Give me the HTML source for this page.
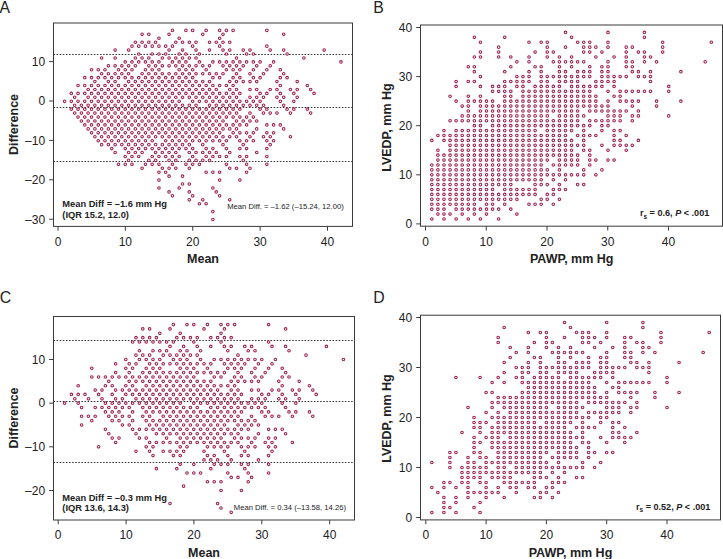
<!DOCTYPE html>
<html><head><meta charset="utf-8"><style>
html,body{margin:0;padding:0;background:#fff;width:723px;height:559px;overflow:hidden}
svg{display:block}
text{font-family:"Liberation Sans",sans-serif;fill:#222}
.tk{font-size:12px}
.let{font-size:15.8px}
.ax{font-size:12.5px;font-weight:bold}
.an{font-size:9.3px;font-weight:bold}
.sm{font-size:7.65px;fill:#222}
.rs{font-size:9.1px;font-weight:bold}
.sub{font-size:6.5px}
</style></head><body>
<svg width="723" height="559" viewBox="0 0 723 559">
<rect x="53.5" y="23" width="299" height="203.4" fill="none" stroke="#3a3a3a" stroke-width="1"/>
<line x1="53.5" x2="352.5" y1="54.5" y2="54.5" stroke="#333" stroke-width="1" stroke-dasharray="1.55 1.55"/>
<line x1="53.5" x2="352.5" y1="107.5" y2="107.5" stroke="#333" stroke-width="1" stroke-dasharray="1.55 1.55"/>
<line x1="53.5" x2="352.5" y1="161.5" y2="161.5" stroke="#333" stroke-width="1" stroke-dasharray="1.55 1.55"/>
<line x1="58" x2="58" y1="226.4" y2="230.7" stroke="#3a3a3a" stroke-width="1"/>
<text x="58" y="245.7" text-anchor="middle" class="tk">0</text>
<line x1="125.38" x2="125.38" y1="226.4" y2="230.7" stroke="#3a3a3a" stroke-width="1"/>
<text x="125.38" y="245.7" text-anchor="middle" class="tk">10</text>
<line x1="192.75" x2="192.75" y1="226.4" y2="230.7" stroke="#3a3a3a" stroke-width="1"/>
<text x="192.75" y="245.7" text-anchor="middle" class="tk">20</text>
<line x1="260.12" x2="260.12" y1="226.4" y2="230.7" stroke="#3a3a3a" stroke-width="1"/>
<text x="260.12" y="245.7" text-anchor="middle" class="tk">30</text>
<line x1="327.5" x2="327.5" y1="226.4" y2="230.7" stroke="#3a3a3a" stroke-width="1"/>
<text x="327.5" y="245.7" text-anchor="middle" class="tk">40</text>
<line x1="49.2" x2="53.5" y1="219.2" y2="219.2" stroke="#3a3a3a" stroke-width="1"/>
<text x="45.1" y="223.5" text-anchor="end" class="tk">–30</text>
<line x1="49.2" x2="53.5" y1="179.8" y2="179.8" stroke="#3a3a3a" stroke-width="1"/>
<text x="45.1" y="184.1" text-anchor="end" class="tk">–20</text>
<line x1="49.2" x2="53.5" y1="140.4" y2="140.4" stroke="#3a3a3a" stroke-width="1"/>
<text x="45.1" y="144.7" text-anchor="end" class="tk">–10</text>
<line x1="49.2" x2="53.5" y1="101" y2="101" stroke="#3a3a3a" stroke-width="1"/>
<text x="45.1" y="105.3" text-anchor="end" class="tk">0</text>
<line x1="49.2" x2="53.5" y1="61.6" y2="61.6" stroke="#3a3a3a" stroke-width="1"/>
<text x="45.1" y="65.9" text-anchor="end" class="tk">10</text>
<g fill="#fff" stroke="#9c1f52" stroke-width="1.05">
<circle cx="64.54" cy="101.3" r="1.3"/>
<circle cx="71.29" cy="109.18" r="1.3"/>
<circle cx="74.66" cy="113.12" r="1.3"/>
<circle cx="78.03" cy="117.06" r="1.3"/>
<circle cx="81.4" cy="121" r="1.3"/>
<circle cx="84.77" cy="124.94" r="1.3"/>
<circle cx="88.14" cy="128.88" r="1.3"/>
<circle cx="91.52" cy="132.82" r="1.3"/>
<circle cx="94.89" cy="136.76" r="1.3"/>
<circle cx="98.26" cy="140.7" r="1.3"/>
<circle cx="101.63" cy="144.64" r="1.3"/>
<circle cx="118.49" cy="164.34" r="1.3"/>
<circle cx="71.29" cy="101.3" r="1.3"/>
<circle cx="74.66" cy="105.24" r="1.3"/>
<circle cx="78.03" cy="109.18" r="1.3"/>
<circle cx="81.4" cy="113.12" r="1.3"/>
<circle cx="84.77" cy="117.06" r="1.3"/>
<circle cx="88.14" cy="121" r="1.3"/>
<circle cx="91.52" cy="124.94" r="1.3"/>
<circle cx="94.89" cy="128.88" r="1.3"/>
<circle cx="98.26" cy="132.82" r="1.3"/>
<circle cx="101.63" cy="136.76" r="1.3"/>
<circle cx="105" cy="140.7" r="1.3"/>
<circle cx="108.37" cy="144.64" r="1.3"/>
<circle cx="111.74" cy="148.58" r="1.3"/>
<circle cx="115.12" cy="152.52" r="1.3"/>
<circle cx="125.23" cy="164.34" r="1.3"/>
<circle cx="71.29" cy="93.42" r="1.3"/>
<circle cx="74.66" cy="97.36" r="1.3"/>
<circle cx="78.03" cy="101.3" r="1.3"/>
<circle cx="81.4" cy="105.24" r="1.3"/>
<circle cx="84.77" cy="109.18" r="1.3"/>
<circle cx="88.14" cy="113.12" r="1.3"/>
<circle cx="91.52" cy="117.06" r="1.3"/>
<circle cx="94.89" cy="121" r="1.3"/>
<circle cx="98.26" cy="124.94" r="1.3"/>
<circle cx="101.63" cy="128.88" r="1.3"/>
<circle cx="105" cy="132.82" r="1.3"/>
<circle cx="108.37" cy="136.76" r="1.3"/>
<circle cx="111.74" cy="140.7" r="1.3"/>
<circle cx="115.12" cy="144.64" r="1.3"/>
<circle cx="125.23" cy="156.46" r="1.3"/>
<circle cx="128.6" cy="160.4" r="1.3"/>
<circle cx="131.97" cy="164.34" r="1.3"/>
<circle cx="78.03" cy="93.42" r="1.3"/>
<circle cx="84.77" cy="101.3" r="1.3"/>
<circle cx="88.14" cy="105.24" r="1.3"/>
<circle cx="91.52" cy="109.18" r="1.3"/>
<circle cx="94.89" cy="113.12" r="1.3"/>
<circle cx="98.26" cy="117.06" r="1.3"/>
<circle cx="101.63" cy="121" r="1.3"/>
<circle cx="105" cy="124.94" r="1.3"/>
<circle cx="108.37" cy="128.88" r="1.3"/>
<circle cx="111.74" cy="132.82" r="1.3"/>
<circle cx="115.12" cy="136.76" r="1.3"/>
<circle cx="118.49" cy="140.7" r="1.3"/>
<circle cx="121.86" cy="144.64" r="1.3"/>
<circle cx="125.23" cy="148.58" r="1.3"/>
<circle cx="128.6" cy="152.52" r="1.3"/>
<circle cx="131.97" cy="156.46" r="1.3"/>
<circle cx="142.09" cy="168.28" r="1.3"/>
<circle cx="158.94" cy="187.98" r="1.3"/>
<circle cx="78.03" cy="85.54" r="1.3"/>
<circle cx="84.77" cy="93.42" r="1.3"/>
<circle cx="88.14" cy="97.36" r="1.3"/>
<circle cx="91.52" cy="101.3" r="1.3"/>
<circle cx="94.89" cy="105.24" r="1.3"/>
<circle cx="98.26" cy="109.18" r="1.3"/>
<circle cx="101.63" cy="113.12" r="1.3"/>
<circle cx="105" cy="117.06" r="1.3"/>
<circle cx="108.37" cy="121" r="1.3"/>
<circle cx="111.74" cy="124.94" r="1.3"/>
<circle cx="115.12" cy="128.88" r="1.3"/>
<circle cx="118.49" cy="132.82" r="1.3"/>
<circle cx="121.86" cy="136.76" r="1.3"/>
<circle cx="125.23" cy="140.7" r="1.3"/>
<circle cx="128.6" cy="144.64" r="1.3"/>
<circle cx="131.97" cy="148.58" r="1.3"/>
<circle cx="135.34" cy="152.52" r="1.3"/>
<circle cx="138.72" cy="156.46" r="1.3"/>
<circle cx="145.46" cy="164.34" r="1.3"/>
<circle cx="158.94" cy="180.1" r="1.3"/>
<circle cx="169.06" cy="191.92" r="1.3"/>
<circle cx="172.43" cy="195.86" r="1.3"/>
<circle cx="84.77" cy="85.54" r="1.3"/>
<circle cx="88.14" cy="89.48" r="1.3"/>
<circle cx="91.52" cy="93.42" r="1.3"/>
<circle cx="94.89" cy="97.36" r="1.3"/>
<circle cx="98.26" cy="101.3" r="1.3"/>
<circle cx="101.63" cy="105.24" r="1.3"/>
<circle cx="105" cy="109.18" r="1.3"/>
<circle cx="108.37" cy="113.12" r="1.3"/>
<circle cx="111.74" cy="117.06" r="1.3"/>
<circle cx="115.12" cy="121" r="1.3"/>
<circle cx="118.49" cy="124.94" r="1.3"/>
<circle cx="121.86" cy="128.88" r="1.3"/>
<circle cx="125.23" cy="132.82" r="1.3"/>
<circle cx="128.6" cy="136.76" r="1.3"/>
<circle cx="131.97" cy="140.7" r="1.3"/>
<circle cx="135.34" cy="144.64" r="1.3"/>
<circle cx="138.72" cy="148.58" r="1.3"/>
<circle cx="142.09" cy="152.52" r="1.3"/>
<circle cx="148.83" cy="160.4" r="1.3"/>
<circle cx="152.2" cy="164.34" r="1.3"/>
<circle cx="158.94" cy="172.22" r="1.3"/>
<circle cx="84.77" cy="77.66" r="1.3"/>
<circle cx="91.52" cy="85.54" r="1.3"/>
<circle cx="94.89" cy="89.48" r="1.3"/>
<circle cx="98.26" cy="93.42" r="1.3"/>
<circle cx="101.63" cy="97.36" r="1.3"/>
<circle cx="105" cy="101.3" r="1.3"/>
<circle cx="108.37" cy="105.24" r="1.3"/>
<circle cx="111.74" cy="109.18" r="1.3"/>
<circle cx="115.12" cy="113.12" r="1.3"/>
<circle cx="118.49" cy="117.06" r="1.3"/>
<circle cx="121.86" cy="121" r="1.3"/>
<circle cx="125.23" cy="124.94" r="1.3"/>
<circle cx="128.6" cy="128.88" r="1.3"/>
<circle cx="131.97" cy="132.82" r="1.3"/>
<circle cx="135.34" cy="136.76" r="1.3"/>
<circle cx="138.72" cy="140.7" r="1.3"/>
<circle cx="142.09" cy="144.64" r="1.3"/>
<circle cx="145.46" cy="148.58" r="1.3"/>
<circle cx="152.2" cy="156.46" r="1.3"/>
<circle cx="155.57" cy="160.4" r="1.3"/>
<circle cx="158.94" cy="164.34" r="1.3"/>
<circle cx="162.32" cy="168.28" r="1.3"/>
<circle cx="165.69" cy="172.22" r="1.3"/>
<circle cx="169.06" cy="176.16" r="1.3"/>
<circle cx="179.17" cy="187.98" r="1.3"/>
<circle cx="189.29" cy="199.8" r="1.3"/>
<circle cx="91.52" cy="77.66" r="1.3"/>
<circle cx="94.89" cy="81.6" r="1.3"/>
<circle cx="98.26" cy="85.54" r="1.3"/>
<circle cx="101.63" cy="89.48" r="1.3"/>
<circle cx="105" cy="93.42" r="1.3"/>
<circle cx="108.37" cy="97.36" r="1.3"/>
<circle cx="111.74" cy="101.3" r="1.3"/>
<circle cx="115.12" cy="105.24" r="1.3"/>
<circle cx="118.49" cy="109.18" r="1.3"/>
<circle cx="121.86" cy="113.12" r="1.3"/>
<circle cx="125.23" cy="117.06" r="1.3"/>
<circle cx="128.6" cy="121" r="1.3"/>
<circle cx="131.97" cy="124.94" r="1.3"/>
<circle cx="135.34" cy="128.88" r="1.3"/>
<circle cx="138.72" cy="132.82" r="1.3"/>
<circle cx="142.09" cy="136.76" r="1.3"/>
<circle cx="145.46" cy="140.7" r="1.3"/>
<circle cx="148.83" cy="144.64" r="1.3"/>
<circle cx="152.2" cy="148.58" r="1.3"/>
<circle cx="155.57" cy="152.52" r="1.3"/>
<circle cx="158.94" cy="156.46" r="1.3"/>
<circle cx="169.06" cy="168.28" r="1.3"/>
<circle cx="182.55" cy="184.04" r="1.3"/>
<circle cx="189.29" cy="191.92" r="1.3"/>
<circle cx="192.66" cy="195.86" r="1.3"/>
<circle cx="199.4" cy="203.74" r="1.3"/>
<circle cx="212.89" cy="219.5" r="1.3"/>
<circle cx="91.52" cy="69.78" r="1.3"/>
<circle cx="98.26" cy="77.66" r="1.3"/>
<circle cx="105" cy="85.54" r="1.3"/>
<circle cx="108.37" cy="89.48" r="1.3"/>
<circle cx="111.74" cy="93.42" r="1.3"/>
<circle cx="115.12" cy="97.36" r="1.3"/>
<circle cx="118.49" cy="101.3" r="1.3"/>
<circle cx="121.86" cy="105.24" r="1.3"/>
<circle cx="125.23" cy="109.18" r="1.3"/>
<circle cx="128.6" cy="113.12" r="1.3"/>
<circle cx="131.97" cy="117.06" r="1.3"/>
<circle cx="135.34" cy="121" r="1.3"/>
<circle cx="138.72" cy="124.94" r="1.3"/>
<circle cx="142.09" cy="128.88" r="1.3"/>
<circle cx="145.46" cy="132.82" r="1.3"/>
<circle cx="148.83" cy="136.76" r="1.3"/>
<circle cx="152.2" cy="140.7" r="1.3"/>
<circle cx="155.57" cy="144.64" r="1.3"/>
<circle cx="158.94" cy="148.58" r="1.3"/>
<circle cx="162.32" cy="152.52" r="1.3"/>
<circle cx="165.69" cy="156.46" r="1.3"/>
<circle cx="169.06" cy="160.4" r="1.3"/>
<circle cx="172.43" cy="164.34" r="1.3"/>
<circle cx="175.8" cy="168.28" r="1.3"/>
<circle cx="182.55" cy="176.16" r="1.3"/>
<circle cx="189.29" cy="184.04" r="1.3"/>
<circle cx="202.77" cy="199.8" r="1.3"/>
<circle cx="206.15" cy="203.74" r="1.3"/>
<circle cx="212.89" cy="211.62" r="1.3"/>
<circle cx="98.26" cy="69.78" r="1.3"/>
<circle cx="101.63" cy="73.72" r="1.3"/>
<circle cx="105" cy="77.66" r="1.3"/>
<circle cx="108.37" cy="81.6" r="1.3"/>
<circle cx="111.74" cy="85.54" r="1.3"/>
<circle cx="115.12" cy="89.48" r="1.3"/>
<circle cx="118.49" cy="93.42" r="1.3"/>
<circle cx="121.86" cy="97.36" r="1.3"/>
<circle cx="125.23" cy="101.3" r="1.3"/>
<circle cx="128.6" cy="105.24" r="1.3"/>
<circle cx="131.97" cy="109.18" r="1.3"/>
<circle cx="135.34" cy="113.12" r="1.3"/>
<circle cx="138.72" cy="117.06" r="1.3"/>
<circle cx="142.09" cy="121" r="1.3"/>
<circle cx="145.46" cy="124.94" r="1.3"/>
<circle cx="148.83" cy="128.88" r="1.3"/>
<circle cx="152.2" cy="132.82" r="1.3"/>
<circle cx="155.57" cy="136.76" r="1.3"/>
<circle cx="162.32" cy="144.64" r="1.3"/>
<circle cx="165.69" cy="148.58" r="1.3"/>
<circle cx="169.06" cy="152.52" r="1.3"/>
<circle cx="172.43" cy="156.46" r="1.3"/>
<circle cx="175.8" cy="160.4" r="1.3"/>
<circle cx="105" cy="69.78" r="1.3"/>
<circle cx="108.37" cy="73.72" r="1.3"/>
<circle cx="111.74" cy="77.66" r="1.3"/>
<circle cx="115.12" cy="81.6" r="1.3"/>
<circle cx="118.49" cy="85.54" r="1.3"/>
<circle cx="121.86" cy="89.48" r="1.3"/>
<circle cx="125.23" cy="93.42" r="1.3"/>
<circle cx="128.6" cy="97.36" r="1.3"/>
<circle cx="131.97" cy="101.3" r="1.3"/>
<circle cx="135.34" cy="105.24" r="1.3"/>
<circle cx="138.72" cy="109.18" r="1.3"/>
<circle cx="142.09" cy="113.12" r="1.3"/>
<circle cx="145.46" cy="117.06" r="1.3"/>
<circle cx="148.83" cy="121" r="1.3"/>
<circle cx="152.2" cy="124.94" r="1.3"/>
<circle cx="155.57" cy="128.88" r="1.3"/>
<circle cx="158.94" cy="132.82" r="1.3"/>
<circle cx="162.32" cy="136.76" r="1.3"/>
<circle cx="165.69" cy="140.7" r="1.3"/>
<circle cx="169.06" cy="144.64" r="1.3"/>
<circle cx="172.43" cy="148.58" r="1.3"/>
<circle cx="175.8" cy="152.52" r="1.3"/>
<circle cx="179.17" cy="156.46" r="1.3"/>
<circle cx="185.92" cy="164.34" r="1.3"/>
<circle cx="189.29" cy="168.28" r="1.3"/>
<circle cx="101.63" cy="57.96" r="1.3"/>
<circle cx="108.37" cy="65.84" r="1.3"/>
<circle cx="115.12" cy="73.72" r="1.3"/>
<circle cx="118.49" cy="77.66" r="1.3"/>
<circle cx="125.23" cy="85.54" r="1.3"/>
<circle cx="128.6" cy="89.48" r="1.3"/>
<circle cx="131.97" cy="93.42" r="1.3"/>
<circle cx="135.34" cy="97.36" r="1.3"/>
<circle cx="138.72" cy="101.3" r="1.3"/>
<circle cx="142.09" cy="105.24" r="1.3"/>
<circle cx="145.46" cy="109.18" r="1.3"/>
<circle cx="148.83" cy="113.12" r="1.3"/>
<circle cx="152.2" cy="117.06" r="1.3"/>
<circle cx="155.57" cy="121" r="1.3"/>
<circle cx="158.94" cy="124.94" r="1.3"/>
<circle cx="162.32" cy="128.88" r="1.3"/>
<circle cx="165.69" cy="132.82" r="1.3"/>
<circle cx="169.06" cy="136.76" r="1.3"/>
<circle cx="172.43" cy="140.7" r="1.3"/>
<circle cx="175.8" cy="144.64" r="1.3"/>
<circle cx="179.17" cy="148.58" r="1.3"/>
<circle cx="189.29" cy="160.4" r="1.3"/>
<circle cx="192.66" cy="164.34" r="1.3"/>
<circle cx="212.89" cy="187.98" r="1.3"/>
<circle cx="216.26" cy="191.92" r="1.3"/>
<circle cx="219.63" cy="195.86" r="1.3"/>
<circle cx="115.12" cy="65.84" r="1.3"/>
<circle cx="118.49" cy="69.78" r="1.3"/>
<circle cx="121.86" cy="73.72" r="1.3"/>
<circle cx="125.23" cy="77.66" r="1.3"/>
<circle cx="128.6" cy="81.6" r="1.3"/>
<circle cx="131.97" cy="85.54" r="1.3"/>
<circle cx="135.34" cy="89.48" r="1.3"/>
<circle cx="138.72" cy="93.42" r="1.3"/>
<circle cx="142.09" cy="97.36" r="1.3"/>
<circle cx="145.46" cy="101.3" r="1.3"/>
<circle cx="148.83" cy="105.24" r="1.3"/>
<circle cx="152.2" cy="109.18" r="1.3"/>
<circle cx="155.57" cy="113.12" r="1.3"/>
<circle cx="158.94" cy="117.06" r="1.3"/>
<circle cx="162.32" cy="121" r="1.3"/>
<circle cx="165.69" cy="124.94" r="1.3"/>
<circle cx="169.06" cy="128.88" r="1.3"/>
<circle cx="172.43" cy="132.82" r="1.3"/>
<circle cx="175.8" cy="136.76" r="1.3"/>
<circle cx="179.17" cy="140.7" r="1.3"/>
<circle cx="182.55" cy="144.64" r="1.3"/>
<circle cx="185.92" cy="148.58" r="1.3"/>
<circle cx="189.29" cy="152.52" r="1.3"/>
<circle cx="192.66" cy="156.46" r="1.3"/>
<circle cx="196.03" cy="160.4" r="1.3"/>
<circle cx="199.4" cy="164.34" r="1.3"/>
<circle cx="206.15" cy="172.22" r="1.3"/>
<circle cx="229.75" cy="199.8" r="1.3"/>
<circle cx="115.12" cy="57.96" r="1.3"/>
<circle cx="121.86" cy="65.84" r="1.3"/>
<circle cx="125.23" cy="69.78" r="1.3"/>
<circle cx="128.6" cy="73.72" r="1.3"/>
<circle cx="131.97" cy="77.66" r="1.3"/>
<circle cx="135.34" cy="81.6" r="1.3"/>
<circle cx="138.72" cy="85.54" r="1.3"/>
<circle cx="142.09" cy="89.48" r="1.3"/>
<circle cx="145.46" cy="93.42" r="1.3"/>
<circle cx="148.83" cy="97.36" r="1.3"/>
<circle cx="152.2" cy="101.3" r="1.3"/>
<circle cx="155.57" cy="105.24" r="1.3"/>
<circle cx="158.94" cy="109.18" r="1.3"/>
<circle cx="162.32" cy="113.12" r="1.3"/>
<circle cx="165.69" cy="117.06" r="1.3"/>
<circle cx="169.06" cy="121" r="1.3"/>
<circle cx="172.43" cy="124.94" r="1.3"/>
<circle cx="175.8" cy="128.88" r="1.3"/>
<circle cx="179.17" cy="132.82" r="1.3"/>
<circle cx="182.55" cy="136.76" r="1.3"/>
<circle cx="185.92" cy="140.7" r="1.3"/>
<circle cx="189.29" cy="144.64" r="1.3"/>
<circle cx="192.66" cy="148.58" r="1.3"/>
<circle cx="196.03" cy="152.52" r="1.3"/>
<circle cx="202.77" cy="160.4" r="1.3"/>
<circle cx="212.89" cy="172.22" r="1.3"/>
<circle cx="219.63" cy="180.1" r="1.3"/>
<circle cx="115.12" cy="50.08" r="1.3"/>
<circle cx="125.23" cy="61.9" r="1.3"/>
<circle cx="128.6" cy="65.84" r="1.3"/>
<circle cx="131.97" cy="69.78" r="1.3"/>
<circle cx="138.72" cy="77.66" r="1.3"/>
<circle cx="142.09" cy="81.6" r="1.3"/>
<circle cx="145.46" cy="85.54" r="1.3"/>
<circle cx="148.83" cy="89.48" r="1.3"/>
<circle cx="152.2" cy="93.42" r="1.3"/>
<circle cx="155.57" cy="97.36" r="1.3"/>
<circle cx="158.94" cy="101.3" r="1.3"/>
<circle cx="162.32" cy="105.24" r="1.3"/>
<circle cx="165.69" cy="109.18" r="1.3"/>
<circle cx="169.06" cy="113.12" r="1.3"/>
<circle cx="172.43" cy="117.06" r="1.3"/>
<circle cx="175.8" cy="121" r="1.3"/>
<circle cx="179.17" cy="124.94" r="1.3"/>
<circle cx="182.55" cy="128.88" r="1.3"/>
<circle cx="185.92" cy="132.82" r="1.3"/>
<circle cx="189.29" cy="136.76" r="1.3"/>
<circle cx="192.66" cy="140.7" r="1.3"/>
<circle cx="202.77" cy="152.52" r="1.3"/>
<circle cx="206.15" cy="156.46" r="1.3"/>
<circle cx="209.52" cy="160.4" r="1.3"/>
<circle cx="219.63" cy="172.22" r="1.3"/>
<circle cx="131.97" cy="61.9" r="1.3"/>
<circle cx="135.34" cy="65.84" r="1.3"/>
<circle cx="142.09" cy="73.72" r="1.3"/>
<circle cx="145.46" cy="77.66" r="1.3"/>
<circle cx="148.83" cy="81.6" r="1.3"/>
<circle cx="152.2" cy="85.54" r="1.3"/>
<circle cx="155.57" cy="89.48" r="1.3"/>
<circle cx="158.94" cy="93.42" r="1.3"/>
<circle cx="162.32" cy="97.36" r="1.3"/>
<circle cx="165.69" cy="101.3" r="1.3"/>
<circle cx="169.06" cy="105.24" r="1.3"/>
<circle cx="172.43" cy="109.18" r="1.3"/>
<circle cx="175.8" cy="113.12" r="1.3"/>
<circle cx="179.17" cy="117.06" r="1.3"/>
<circle cx="182.55" cy="121" r="1.3"/>
<circle cx="185.92" cy="124.94" r="1.3"/>
<circle cx="189.29" cy="128.88" r="1.3"/>
<circle cx="192.66" cy="132.82" r="1.3"/>
<circle cx="196.03" cy="136.76" r="1.3"/>
<circle cx="199.4" cy="140.7" r="1.3"/>
<circle cx="202.77" cy="144.64" r="1.3"/>
<circle cx="206.15" cy="148.58" r="1.3"/>
<circle cx="209.52" cy="152.52" r="1.3"/>
<circle cx="212.89" cy="156.46" r="1.3"/>
<circle cx="128.6" cy="50.08" r="1.3"/>
<circle cx="135.34" cy="57.96" r="1.3"/>
<circle cx="138.72" cy="61.9" r="1.3"/>
<circle cx="145.46" cy="69.78" r="1.3"/>
<circle cx="148.83" cy="73.72" r="1.3"/>
<circle cx="152.2" cy="77.66" r="1.3"/>
<circle cx="155.57" cy="81.6" r="1.3"/>
<circle cx="158.94" cy="85.54" r="1.3"/>
<circle cx="162.32" cy="89.48" r="1.3"/>
<circle cx="165.69" cy="93.42" r="1.3"/>
<circle cx="169.06" cy="97.36" r="1.3"/>
<circle cx="172.43" cy="101.3" r="1.3"/>
<circle cx="175.8" cy="105.24" r="1.3"/>
<circle cx="179.17" cy="109.18" r="1.3"/>
<circle cx="182.55" cy="113.12" r="1.3"/>
<circle cx="185.92" cy="117.06" r="1.3"/>
<circle cx="189.29" cy="121" r="1.3"/>
<circle cx="192.66" cy="124.94" r="1.3"/>
<circle cx="196.03" cy="128.88" r="1.3"/>
<circle cx="199.4" cy="132.82" r="1.3"/>
<circle cx="202.77" cy="136.76" r="1.3"/>
<circle cx="206.15" cy="140.7" r="1.3"/>
<circle cx="212.89" cy="148.58" r="1.3"/>
<circle cx="216.26" cy="152.52" r="1.3"/>
<circle cx="219.63" cy="156.46" r="1.3"/>
<circle cx="226.38" cy="164.34" r="1.3"/>
<circle cx="229.75" cy="168.28" r="1.3"/>
<circle cx="239.86" cy="180.1" r="1.3"/>
<circle cx="131.97" cy="46.14" r="1.3"/>
<circle cx="138.72" cy="54.02" r="1.3"/>
<circle cx="142.09" cy="57.96" r="1.3"/>
<circle cx="145.46" cy="61.9" r="1.3"/>
<circle cx="148.83" cy="65.84" r="1.3"/>
<circle cx="152.2" cy="69.78" r="1.3"/>
<circle cx="155.57" cy="73.72" r="1.3"/>
<circle cx="158.94" cy="77.66" r="1.3"/>
<circle cx="162.32" cy="81.6" r="1.3"/>
<circle cx="165.69" cy="85.54" r="1.3"/>
<circle cx="169.06" cy="89.48" r="1.3"/>
<circle cx="172.43" cy="93.42" r="1.3"/>
<circle cx="175.8" cy="97.36" r="1.3"/>
<circle cx="179.17" cy="101.3" r="1.3"/>
<circle cx="182.55" cy="105.24" r="1.3"/>
<circle cx="185.92" cy="109.18" r="1.3"/>
<circle cx="189.29" cy="113.12" r="1.3"/>
<circle cx="192.66" cy="117.06" r="1.3"/>
<circle cx="196.03" cy="121" r="1.3"/>
<circle cx="199.4" cy="124.94" r="1.3"/>
<circle cx="202.77" cy="128.88" r="1.3"/>
<circle cx="206.15" cy="132.82" r="1.3"/>
<circle cx="209.52" cy="136.76" r="1.3"/>
<circle cx="212.89" cy="140.7" r="1.3"/>
<circle cx="226.38" cy="156.46" r="1.3"/>
<circle cx="236.49" cy="168.28" r="1.3"/>
<circle cx="135.34" cy="42.2" r="1.3"/>
<circle cx="138.72" cy="46.14" r="1.3"/>
<circle cx="148.83" cy="57.96" r="1.3"/>
<circle cx="152.2" cy="61.9" r="1.3"/>
<circle cx="155.57" cy="65.84" r="1.3"/>
<circle cx="158.94" cy="69.78" r="1.3"/>
<circle cx="162.32" cy="73.72" r="1.3"/>
<circle cx="165.69" cy="77.66" r="1.3"/>
<circle cx="169.06" cy="81.6" r="1.3"/>
<circle cx="172.43" cy="85.54" r="1.3"/>
<circle cx="175.8" cy="89.48" r="1.3"/>
<circle cx="179.17" cy="93.42" r="1.3"/>
<circle cx="182.55" cy="97.36" r="1.3"/>
<circle cx="189.29" cy="105.24" r="1.3"/>
<circle cx="192.66" cy="109.18" r="1.3"/>
<circle cx="196.03" cy="113.12" r="1.3"/>
<circle cx="199.4" cy="117.06" r="1.3"/>
<circle cx="202.77" cy="121" r="1.3"/>
<circle cx="206.15" cy="124.94" r="1.3"/>
<circle cx="209.52" cy="128.88" r="1.3"/>
<circle cx="212.89" cy="132.82" r="1.3"/>
<circle cx="216.26" cy="136.76" r="1.3"/>
<circle cx="219.63" cy="140.7" r="1.3"/>
<circle cx="223" cy="144.64" r="1.3"/>
<circle cx="226.38" cy="148.58" r="1.3"/>
<circle cx="229.75" cy="152.52" r="1.3"/>
<circle cx="246.6" cy="172.22" r="1.3"/>
<circle cx="142.09" cy="42.2" r="1.3"/>
<circle cx="145.46" cy="46.14" r="1.3"/>
<circle cx="152.2" cy="54.02" r="1.3"/>
<circle cx="158.94" cy="61.9" r="1.3"/>
<circle cx="162.32" cy="65.84" r="1.3"/>
<circle cx="169.06" cy="73.72" r="1.3"/>
<circle cx="172.43" cy="77.66" r="1.3"/>
<circle cx="175.8" cy="81.6" r="1.3"/>
<circle cx="179.17" cy="85.54" r="1.3"/>
<circle cx="182.55" cy="89.48" r="1.3"/>
<circle cx="185.92" cy="93.42" r="1.3"/>
<circle cx="189.29" cy="97.36" r="1.3"/>
<circle cx="192.66" cy="101.3" r="1.3"/>
<circle cx="196.03" cy="105.24" r="1.3"/>
<circle cx="199.4" cy="109.18" r="1.3"/>
<circle cx="202.77" cy="113.12" r="1.3"/>
<circle cx="206.15" cy="117.06" r="1.3"/>
<circle cx="209.52" cy="121" r="1.3"/>
<circle cx="212.89" cy="124.94" r="1.3"/>
<circle cx="216.26" cy="128.88" r="1.3"/>
<circle cx="219.63" cy="132.82" r="1.3"/>
<circle cx="223" cy="136.76" r="1.3"/>
<circle cx="226.38" cy="140.7" r="1.3"/>
<circle cx="239.86" cy="156.46" r="1.3"/>
<circle cx="243.23" cy="160.4" r="1.3"/>
<circle cx="246.6" cy="164.34" r="1.3"/>
<circle cx="249.98" cy="168.28" r="1.3"/>
<circle cx="142.09" cy="34.32" r="1.3"/>
<circle cx="148.83" cy="42.2" r="1.3"/>
<circle cx="152.2" cy="46.14" r="1.3"/>
<circle cx="158.94" cy="54.02" r="1.3"/>
<circle cx="162.32" cy="57.96" r="1.3"/>
<circle cx="169.06" cy="65.84" r="1.3"/>
<circle cx="175.8" cy="73.72" r="1.3"/>
<circle cx="179.17" cy="77.66" r="1.3"/>
<circle cx="182.55" cy="81.6" r="1.3"/>
<circle cx="185.92" cy="85.54" r="1.3"/>
<circle cx="189.29" cy="89.48" r="1.3"/>
<circle cx="192.66" cy="93.42" r="1.3"/>
<circle cx="196.03" cy="97.36" r="1.3"/>
<circle cx="199.4" cy="101.3" r="1.3"/>
<circle cx="206.15" cy="109.18" r="1.3"/>
<circle cx="209.52" cy="113.12" r="1.3"/>
<circle cx="212.89" cy="117.06" r="1.3"/>
<circle cx="216.26" cy="121" r="1.3"/>
<circle cx="219.63" cy="124.94" r="1.3"/>
<circle cx="223" cy="128.88" r="1.3"/>
<circle cx="229.75" cy="136.76" r="1.3"/>
<circle cx="239.86" cy="148.58" r="1.3"/>
<circle cx="246.6" cy="156.46" r="1.3"/>
<circle cx="148.83" cy="34.32" r="1.3"/>
<circle cx="155.57" cy="42.2" r="1.3"/>
<circle cx="158.94" cy="46.14" r="1.3"/>
<circle cx="165.69" cy="54.02" r="1.3"/>
<circle cx="169.06" cy="57.96" r="1.3"/>
<circle cx="172.43" cy="61.9" r="1.3"/>
<circle cx="175.8" cy="65.84" r="1.3"/>
<circle cx="179.17" cy="69.78" r="1.3"/>
<circle cx="182.55" cy="73.72" r="1.3"/>
<circle cx="185.92" cy="77.66" r="1.3"/>
<circle cx="189.29" cy="81.6" r="1.3"/>
<circle cx="192.66" cy="85.54" r="1.3"/>
<circle cx="196.03" cy="89.48" r="1.3"/>
<circle cx="199.4" cy="93.42" r="1.3"/>
<circle cx="202.77" cy="97.36" r="1.3"/>
<circle cx="206.15" cy="101.3" r="1.3"/>
<circle cx="209.52" cy="105.24" r="1.3"/>
<circle cx="212.89" cy="109.18" r="1.3"/>
<circle cx="216.26" cy="113.12" r="1.3"/>
<circle cx="219.63" cy="117.06" r="1.3"/>
<circle cx="223" cy="121" r="1.3"/>
<circle cx="226.38" cy="124.94" r="1.3"/>
<circle cx="229.75" cy="128.88" r="1.3"/>
<circle cx="233.12" cy="132.82" r="1.3"/>
<circle cx="236.49" cy="136.76" r="1.3"/>
<circle cx="239.86" cy="140.7" r="1.3"/>
<circle cx="243.23" cy="144.64" r="1.3"/>
<circle cx="246.6" cy="148.58" r="1.3"/>
<circle cx="158.94" cy="38.26" r="1.3"/>
<circle cx="165.69" cy="46.14" r="1.3"/>
<circle cx="169.06" cy="50.08" r="1.3"/>
<circle cx="175.8" cy="57.96" r="1.3"/>
<circle cx="179.17" cy="61.9" r="1.3"/>
<circle cx="182.55" cy="65.84" r="1.3"/>
<circle cx="185.92" cy="69.78" r="1.3"/>
<circle cx="189.29" cy="73.72" r="1.3"/>
<circle cx="192.66" cy="77.66" r="1.3"/>
<circle cx="196.03" cy="81.6" r="1.3"/>
<circle cx="199.4" cy="85.54" r="1.3"/>
<circle cx="202.77" cy="89.48" r="1.3"/>
<circle cx="206.15" cy="93.42" r="1.3"/>
<circle cx="209.52" cy="97.36" r="1.3"/>
<circle cx="212.89" cy="101.3" r="1.3"/>
<circle cx="216.26" cy="105.24" r="1.3"/>
<circle cx="219.63" cy="109.18" r="1.3"/>
<circle cx="223" cy="113.12" r="1.3"/>
<circle cx="226.38" cy="117.06" r="1.3"/>
<circle cx="233.12" cy="124.94" r="1.3"/>
<circle cx="236.49" cy="128.88" r="1.3"/>
<circle cx="239.86" cy="132.82" r="1.3"/>
<circle cx="246.6" cy="140.7" r="1.3"/>
<circle cx="256.72" cy="152.52" r="1.3"/>
<circle cx="266.83" cy="164.34" r="1.3"/>
<circle cx="172.43" cy="46.14" r="1.3"/>
<circle cx="179.17" cy="54.02" r="1.3"/>
<circle cx="182.55" cy="57.96" r="1.3"/>
<circle cx="185.92" cy="61.9" r="1.3"/>
<circle cx="189.29" cy="65.84" r="1.3"/>
<circle cx="192.66" cy="69.78" r="1.3"/>
<circle cx="196.03" cy="73.72" r="1.3"/>
<circle cx="202.77" cy="81.6" r="1.3"/>
<circle cx="206.15" cy="85.54" r="1.3"/>
<circle cx="209.52" cy="89.48" r="1.3"/>
<circle cx="212.89" cy="93.42" r="1.3"/>
<circle cx="216.26" cy="97.36" r="1.3"/>
<circle cx="219.63" cy="101.3" r="1.3"/>
<circle cx="223" cy="105.24" r="1.3"/>
<circle cx="226.38" cy="109.18" r="1.3"/>
<circle cx="229.75" cy="113.12" r="1.3"/>
<circle cx="233.12" cy="117.06" r="1.3"/>
<circle cx="236.49" cy="121" r="1.3"/>
<circle cx="239.86" cy="124.94" r="1.3"/>
<circle cx="246.6" cy="132.82" r="1.3"/>
<circle cx="249.98" cy="136.76" r="1.3"/>
<circle cx="253.35" cy="140.7" r="1.3"/>
<circle cx="266.83" cy="156.46" r="1.3"/>
<circle cx="169.06" cy="34.32" r="1.3"/>
<circle cx="175.8" cy="42.2" r="1.3"/>
<circle cx="182.55" cy="50.08" r="1.3"/>
<circle cx="185.92" cy="54.02" r="1.3"/>
<circle cx="189.29" cy="57.96" r="1.3"/>
<circle cx="196.03" cy="65.84" r="1.3"/>
<circle cx="202.77" cy="73.72" r="1.3"/>
<circle cx="209.52" cy="81.6" r="1.3"/>
<circle cx="212.89" cy="85.54" r="1.3"/>
<circle cx="216.26" cy="89.48" r="1.3"/>
<circle cx="219.63" cy="93.42" r="1.3"/>
<circle cx="223" cy="97.36" r="1.3"/>
<circle cx="226.38" cy="101.3" r="1.3"/>
<circle cx="229.75" cy="105.24" r="1.3"/>
<circle cx="233.12" cy="109.18" r="1.3"/>
<circle cx="236.49" cy="113.12" r="1.3"/>
<circle cx="239.86" cy="117.06" r="1.3"/>
<circle cx="243.23" cy="121" r="1.3"/>
<circle cx="246.6" cy="124.94" r="1.3"/>
<circle cx="253.35" cy="132.82" r="1.3"/>
<circle cx="266.83" cy="148.58" r="1.3"/>
<circle cx="172.43" cy="30.38" r="1.3"/>
<circle cx="179.17" cy="38.26" r="1.3"/>
<circle cx="182.55" cy="42.2" r="1.3"/>
<circle cx="196.03" cy="57.96" r="1.3"/>
<circle cx="199.4" cy="61.9" r="1.3"/>
<circle cx="202.77" cy="65.84" r="1.3"/>
<circle cx="206.15" cy="69.78" r="1.3"/>
<circle cx="209.52" cy="73.72" r="1.3"/>
<circle cx="212.89" cy="77.66" r="1.3"/>
<circle cx="219.63" cy="85.54" r="1.3"/>
<circle cx="226.38" cy="93.42" r="1.3"/>
<circle cx="229.75" cy="97.36" r="1.3"/>
<circle cx="233.12" cy="101.3" r="1.3"/>
<circle cx="236.49" cy="105.24" r="1.3"/>
<circle cx="239.86" cy="109.18" r="1.3"/>
<circle cx="246.6" cy="117.06" r="1.3"/>
<circle cx="249.98" cy="121" r="1.3"/>
<circle cx="256.72" cy="128.88" r="1.3"/>
<circle cx="263.46" cy="136.76" r="1.3"/>
<circle cx="266.83" cy="140.7" r="1.3"/>
<circle cx="270.2" cy="144.64" r="1.3"/>
<circle cx="189.29" cy="42.2" r="1.3"/>
<circle cx="192.66" cy="46.14" r="1.3"/>
<circle cx="196.03" cy="50.08" r="1.3"/>
<circle cx="199.4" cy="54.02" r="1.3"/>
<circle cx="209.52" cy="65.84" r="1.3"/>
<circle cx="216.26" cy="73.72" r="1.3"/>
<circle cx="219.63" cy="77.66" r="1.3"/>
<circle cx="226.38" cy="85.54" r="1.3"/>
<circle cx="229.75" cy="89.48" r="1.3"/>
<circle cx="233.12" cy="93.42" r="1.3"/>
<circle cx="236.49" cy="97.36" r="1.3"/>
<circle cx="239.86" cy="101.3" r="1.3"/>
<circle cx="243.23" cy="105.24" r="1.3"/>
<circle cx="249.98" cy="113.12" r="1.3"/>
<circle cx="253.35" cy="117.06" r="1.3"/>
<circle cx="256.72" cy="121" r="1.3"/>
<circle cx="266.83" cy="132.82" r="1.3"/>
<circle cx="270.2" cy="136.76" r="1.3"/>
<circle cx="273.58" cy="140.7" r="1.3"/>
<circle cx="185.92" cy="30.38" r="1.3"/>
<circle cx="196.03" cy="42.2" r="1.3"/>
<circle cx="212.89" cy="61.9" r="1.3"/>
<circle cx="223" cy="73.72" r="1.3"/>
<circle cx="229.75" cy="81.6" r="1.3"/>
<circle cx="233.12" cy="85.54" r="1.3"/>
<circle cx="236.49" cy="89.48" r="1.3"/>
<circle cx="239.86" cy="93.42" r="1.3"/>
<circle cx="246.6" cy="101.3" r="1.3"/>
<circle cx="249.98" cy="105.24" r="1.3"/>
<circle cx="266.83" cy="124.94" r="1.3"/>
<circle cx="273.58" cy="132.82" r="1.3"/>
<circle cx="192.66" cy="30.38" r="1.3"/>
<circle cx="209.52" cy="50.08" r="1.3"/>
<circle cx="219.63" cy="61.9" r="1.3"/>
<circle cx="223" cy="65.84" r="1.3"/>
<circle cx="226.38" cy="69.78" r="1.3"/>
<circle cx="233.12" cy="77.66" r="1.3"/>
<circle cx="236.49" cy="81.6" r="1.3"/>
<circle cx="249.98" cy="97.36" r="1.3"/>
<circle cx="253.35" cy="101.3" r="1.3"/>
<circle cx="256.72" cy="105.24" r="1.3"/>
<circle cx="260.09" cy="109.18" r="1.3"/>
<circle cx="263.46" cy="113.12" r="1.3"/>
<circle cx="273.58" cy="124.94" r="1.3"/>
<circle cx="202.77" cy="34.32" r="1.3"/>
<circle cx="209.52" cy="42.2" r="1.3"/>
<circle cx="226.38" cy="61.9" r="1.3"/>
<circle cx="229.75" cy="65.84" r="1.3"/>
<circle cx="233.12" cy="69.78" r="1.3"/>
<circle cx="236.49" cy="73.72" r="1.3"/>
<circle cx="239.86" cy="77.66" r="1.3"/>
<circle cx="243.23" cy="81.6" r="1.3"/>
<circle cx="249.98" cy="89.48" r="1.3"/>
<circle cx="256.72" cy="97.36" r="1.3"/>
<circle cx="260.09" cy="101.3" r="1.3"/>
<circle cx="263.46" cy="105.24" r="1.3"/>
<circle cx="266.83" cy="109.18" r="1.3"/>
<circle cx="270.2" cy="113.12" r="1.3"/>
<circle cx="280.32" cy="124.94" r="1.3"/>
<circle cx="283.69" cy="128.88" r="1.3"/>
<circle cx="290.43" cy="136.76" r="1.3"/>
<circle cx="206.15" cy="30.38" r="1.3"/>
<circle cx="216.26" cy="42.2" r="1.3"/>
<circle cx="219.63" cy="46.14" r="1.3"/>
<circle cx="223" cy="50.08" r="1.3"/>
<circle cx="226.38" cy="54.02" r="1.3"/>
<circle cx="233.12" cy="61.9" r="1.3"/>
<circle cx="236.49" cy="65.84" r="1.3"/>
<circle cx="239.86" cy="69.78" r="1.3"/>
<circle cx="249.98" cy="81.6" r="1.3"/>
<circle cx="256.72" cy="89.48" r="1.3"/>
<circle cx="260.09" cy="93.42" r="1.3"/>
<circle cx="263.46" cy="97.36" r="1.3"/>
<circle cx="276.95" cy="113.12" r="1.3"/>
<circle cx="219.63" cy="38.26" r="1.3"/>
<circle cx="223" cy="42.2" r="1.3"/>
<circle cx="229.75" cy="50.08" r="1.3"/>
<circle cx="236.49" cy="57.96" r="1.3"/>
<circle cx="239.86" cy="61.9" r="1.3"/>
<circle cx="243.23" cy="65.84" r="1.3"/>
<circle cx="249.98" cy="73.72" r="1.3"/>
<circle cx="253.35" cy="77.66" r="1.3"/>
<circle cx="256.72" cy="81.6" r="1.3"/>
<circle cx="266.83" cy="93.42" r="1.3"/>
<circle cx="219.63" cy="30.38" r="1.3"/>
<circle cx="223" cy="34.32" r="1.3"/>
<circle cx="229.75" cy="42.2" r="1.3"/>
<circle cx="246.6" cy="61.9" r="1.3"/>
<circle cx="253.35" cy="69.78" r="1.3"/>
<circle cx="260.09" cy="77.66" r="1.3"/>
<circle cx="270.2" cy="89.48" r="1.3"/>
<circle cx="276.95" cy="97.36" r="1.3"/>
<circle cx="280.32" cy="101.3" r="1.3"/>
<circle cx="283.69" cy="105.24" r="1.3"/>
<circle cx="287.06" cy="109.18" r="1.3"/>
<circle cx="290.43" cy="113.12" r="1.3"/>
<circle cx="226.38" cy="30.38" r="1.3"/>
<circle cx="243.23" cy="50.08" r="1.3"/>
<circle cx="246.6" cy="54.02" r="1.3"/>
<circle cx="253.35" cy="61.9" r="1.3"/>
<circle cx="256.72" cy="65.84" r="1.3"/>
<circle cx="263.46" cy="73.72" r="1.3"/>
<circle cx="276.95" cy="89.48" r="1.3"/>
<circle cx="280.32" cy="93.42" r="1.3"/>
<circle cx="283.69" cy="97.36" r="1.3"/>
<circle cx="293.81" cy="109.18" r="1.3"/>
<circle cx="233.12" cy="30.38" r="1.3"/>
<circle cx="249.98" cy="50.08" r="1.3"/>
<circle cx="253.35" cy="54.02" r="1.3"/>
<circle cx="260.09" cy="61.9" r="1.3"/>
<circle cx="266.83" cy="69.78" r="1.3"/>
<circle cx="276.95" cy="81.6" r="1.3"/>
<circle cx="280.32" cy="85.54" r="1.3"/>
<circle cx="293.81" cy="101.3" r="1.3"/>
<circle cx="270.2" cy="65.84" r="1.3"/>
<circle cx="280.32" cy="77.66" r="1.3"/>
<circle cx="290.43" cy="89.48" r="1.3"/>
<circle cx="293.81" cy="93.42" r="1.3"/>
<circle cx="297.18" cy="97.36" r="1.3"/>
<circle cx="307.29" cy="109.18" r="1.3"/>
<circle cx="310.66" cy="113.12" r="1.3"/>
<circle cx="273.58" cy="61.9" r="1.3"/>
<circle cx="280.32" cy="69.78" r="1.3"/>
<circle cx="283.69" cy="73.72" r="1.3"/>
<circle cx="287.06" cy="77.66" r="1.3"/>
<circle cx="297.18" cy="89.48" r="1.3"/>
<circle cx="266.83" cy="46.14" r="1.3"/>
<circle cx="270.2" cy="50.08" r="1.3"/>
<circle cx="297.18" cy="81.6" r="1.3"/>
<circle cx="307.29" cy="85.54" r="1.3"/>
<circle cx="310.66" cy="89.48" r="1.3"/>
<circle cx="314.03" cy="93.42" r="1.3"/>
<circle cx="266.83" cy="30.38" r="1.3"/>
<circle cx="283.69" cy="50.08" r="1.3"/>
<circle cx="287.06" cy="54.02" r="1.3"/>
<circle cx="283.69" cy="34.32" r="1.3"/>
<circle cx="303.92" cy="57.96" r="1.3"/>
<circle cx="324.15" cy="50.08" r="1.3"/>
<circle cx="341.01" cy="61.9" r="1.3"/>
</g>
<rect x="420.5" y="25" width="302" height="201.2" fill="none" stroke="#3a3a3a" stroke-width="1"/>
<line x1="425.5" x2="425.5" y1="226.2" y2="230.5" stroke="#3a3a3a" stroke-width="1"/>
<text x="425.5" y="245.5" text-anchor="middle" class="tk">0</text>
<line x1="486.25" x2="486.25" y1="226.2" y2="230.5" stroke="#3a3a3a" stroke-width="1"/>
<text x="486.25" y="245.5" text-anchor="middle" class="tk">10</text>
<line x1="547" x2="547" y1="226.2" y2="230.5" stroke="#3a3a3a" stroke-width="1"/>
<text x="547" y="245.5" text-anchor="middle" class="tk">20</text>
<line x1="607.75" x2="607.75" y1="226.2" y2="230.5" stroke="#3a3a3a" stroke-width="1"/>
<text x="607.75" y="245.5" text-anchor="middle" class="tk">30</text>
<line x1="668.5" x2="668.5" y1="226.2" y2="230.5" stroke="#3a3a3a" stroke-width="1"/>
<text x="668.5" y="245.5" text-anchor="middle" class="tk">40</text>
<line x1="416.2" x2="420.5" y1="223.9" y2="223.9" stroke="#3a3a3a" stroke-width="1"/>
<text x="412.1" y="228.2" text-anchor="end" class="tk">0</text>
<line x1="416.2" x2="420.5" y1="174.8" y2="174.8" stroke="#3a3a3a" stroke-width="1"/>
<text x="412.1" y="179.1" text-anchor="end" class="tk">10</text>
<line x1="416.2" x2="420.5" y1="125.7" y2="125.7" stroke="#3a3a3a" stroke-width="1"/>
<text x="412.1" y="130" text-anchor="end" class="tk">20</text>
<line x1="416.2" x2="420.5" y1="76.6" y2="76.6" stroke="#3a3a3a" stroke-width="1"/>
<text x="412.1" y="80.9" text-anchor="end" class="tk">30</text>
<line x1="416.2" x2="420.5" y1="27.5" y2="27.5" stroke="#3a3a3a" stroke-width="1"/>
<text x="412.1" y="31.8" text-anchor="end" class="tk">40</text>
<g fill="#fff" stroke="#9c1f52" stroke-width="1.05">
<circle cx="431.82" cy="218.99" r="1.3"/>
<circle cx="431.82" cy="209.17" r="1.3"/>
<circle cx="431.82" cy="204.26" r="1.3"/>
<circle cx="431.82" cy="199.35" r="1.3"/>
<circle cx="431.82" cy="194.44" r="1.3"/>
<circle cx="431.82" cy="189.53" r="1.3"/>
<circle cx="431.82" cy="184.62" r="1.3"/>
<circle cx="431.82" cy="179.71" r="1.3"/>
<circle cx="431.82" cy="174.8" r="1.3"/>
<circle cx="431.82" cy="169.89" r="1.3"/>
<circle cx="431.82" cy="164.98" r="1.3"/>
<circle cx="431.82" cy="140.43" r="1.3"/>
<circle cx="437.9" cy="214.08" r="1.3"/>
<circle cx="437.9" cy="209.17" r="1.3"/>
<circle cx="437.9" cy="204.26" r="1.3"/>
<circle cx="437.9" cy="199.35" r="1.3"/>
<circle cx="437.9" cy="194.44" r="1.3"/>
<circle cx="437.9" cy="189.53" r="1.3"/>
<circle cx="437.9" cy="184.62" r="1.3"/>
<circle cx="437.9" cy="179.71" r="1.3"/>
<circle cx="437.9" cy="174.8" r="1.3"/>
<circle cx="437.9" cy="169.89" r="1.3"/>
<circle cx="437.9" cy="164.98" r="1.3"/>
<circle cx="437.9" cy="160.07" r="1.3"/>
<circle cx="437.9" cy="155.16" r="1.3"/>
<circle cx="437.9" cy="150.25" r="1.3"/>
<circle cx="437.9" cy="135.52" r="1.3"/>
<circle cx="443.98" cy="218.99" r="1.3"/>
<circle cx="443.98" cy="214.08" r="1.3"/>
<circle cx="443.98" cy="209.17" r="1.3"/>
<circle cx="443.98" cy="204.26" r="1.3"/>
<circle cx="443.98" cy="199.35" r="1.3"/>
<circle cx="443.98" cy="194.44" r="1.3"/>
<circle cx="443.98" cy="189.53" r="1.3"/>
<circle cx="443.98" cy="184.62" r="1.3"/>
<circle cx="443.98" cy="179.71" r="1.3"/>
<circle cx="443.98" cy="174.8" r="1.3"/>
<circle cx="443.98" cy="169.89" r="1.3"/>
<circle cx="443.98" cy="164.98" r="1.3"/>
<circle cx="443.98" cy="160.07" r="1.3"/>
<circle cx="443.98" cy="155.16" r="1.3"/>
<circle cx="443.98" cy="140.43" r="1.3"/>
<circle cx="443.98" cy="135.52" r="1.3"/>
<circle cx="443.98" cy="130.61" r="1.3"/>
<circle cx="450.05" cy="214.08" r="1.3"/>
<circle cx="450.05" cy="204.26" r="1.3"/>
<circle cx="450.05" cy="199.35" r="1.3"/>
<circle cx="450.05" cy="194.44" r="1.3"/>
<circle cx="450.05" cy="189.53" r="1.3"/>
<circle cx="450.05" cy="184.62" r="1.3"/>
<circle cx="450.05" cy="179.71" r="1.3"/>
<circle cx="450.05" cy="174.8" r="1.3"/>
<circle cx="450.05" cy="169.89" r="1.3"/>
<circle cx="450.05" cy="164.98" r="1.3"/>
<circle cx="450.05" cy="160.07" r="1.3"/>
<circle cx="450.05" cy="155.16" r="1.3"/>
<circle cx="450.05" cy="150.25" r="1.3"/>
<circle cx="450.05" cy="145.34" r="1.3"/>
<circle cx="450.05" cy="140.43" r="1.3"/>
<circle cx="450.05" cy="135.52" r="1.3"/>
<circle cx="450.05" cy="120.79" r="1.3"/>
<circle cx="450.05" cy="96.24" r="1.3"/>
<circle cx="456.12" cy="218.99" r="1.3"/>
<circle cx="456.12" cy="209.17" r="1.3"/>
<circle cx="456.12" cy="204.26" r="1.3"/>
<circle cx="456.12" cy="199.35" r="1.3"/>
<circle cx="456.12" cy="194.44" r="1.3"/>
<circle cx="456.12" cy="189.53" r="1.3"/>
<circle cx="456.12" cy="184.62" r="1.3"/>
<circle cx="456.12" cy="179.71" r="1.3"/>
<circle cx="456.12" cy="174.8" r="1.3"/>
<circle cx="456.12" cy="169.89" r="1.3"/>
<circle cx="456.12" cy="164.98" r="1.3"/>
<circle cx="456.12" cy="160.07" r="1.3"/>
<circle cx="456.12" cy="155.16" r="1.3"/>
<circle cx="456.12" cy="150.25" r="1.3"/>
<circle cx="456.12" cy="145.34" r="1.3"/>
<circle cx="456.12" cy="140.43" r="1.3"/>
<circle cx="456.12" cy="135.52" r="1.3"/>
<circle cx="456.12" cy="130.61" r="1.3"/>
<circle cx="456.12" cy="120.79" r="1.3"/>
<circle cx="456.12" cy="101.15" r="1.3"/>
<circle cx="456.12" cy="86.42" r="1.3"/>
<circle cx="456.12" cy="81.51" r="1.3"/>
<circle cx="462.2" cy="214.08" r="1.3"/>
<circle cx="462.2" cy="209.17" r="1.3"/>
<circle cx="462.2" cy="204.26" r="1.3"/>
<circle cx="462.2" cy="199.35" r="1.3"/>
<circle cx="462.2" cy="194.44" r="1.3"/>
<circle cx="462.2" cy="189.53" r="1.3"/>
<circle cx="462.2" cy="184.62" r="1.3"/>
<circle cx="462.2" cy="179.71" r="1.3"/>
<circle cx="462.2" cy="174.8" r="1.3"/>
<circle cx="462.2" cy="169.89" r="1.3"/>
<circle cx="462.2" cy="164.98" r="1.3"/>
<circle cx="462.2" cy="160.07" r="1.3"/>
<circle cx="462.2" cy="155.16" r="1.3"/>
<circle cx="462.2" cy="150.25" r="1.3"/>
<circle cx="462.2" cy="145.34" r="1.3"/>
<circle cx="462.2" cy="140.43" r="1.3"/>
<circle cx="462.2" cy="135.52" r="1.3"/>
<circle cx="462.2" cy="130.61" r="1.3"/>
<circle cx="462.2" cy="120.79" r="1.3"/>
<circle cx="462.2" cy="115.88" r="1.3"/>
<circle cx="462.2" cy="106.06" r="1.3"/>
<circle cx="468.27" cy="218.99" r="1.3"/>
<circle cx="468.27" cy="209.17" r="1.3"/>
<circle cx="468.27" cy="204.26" r="1.3"/>
<circle cx="468.27" cy="199.35" r="1.3"/>
<circle cx="468.27" cy="194.44" r="1.3"/>
<circle cx="468.27" cy="189.53" r="1.3"/>
<circle cx="468.27" cy="184.62" r="1.3"/>
<circle cx="468.27" cy="179.71" r="1.3"/>
<circle cx="468.27" cy="174.8" r="1.3"/>
<circle cx="468.27" cy="169.89" r="1.3"/>
<circle cx="468.27" cy="164.98" r="1.3"/>
<circle cx="468.27" cy="160.07" r="1.3"/>
<circle cx="468.27" cy="155.16" r="1.3"/>
<circle cx="468.27" cy="150.25" r="1.3"/>
<circle cx="468.27" cy="145.34" r="1.3"/>
<circle cx="468.27" cy="140.43" r="1.3"/>
<circle cx="468.27" cy="135.52" r="1.3"/>
<circle cx="468.27" cy="130.61" r="1.3"/>
<circle cx="468.27" cy="120.79" r="1.3"/>
<circle cx="468.27" cy="115.88" r="1.3"/>
<circle cx="468.27" cy="110.97" r="1.3"/>
<circle cx="468.27" cy="106.06" r="1.3"/>
<circle cx="468.27" cy="101.15" r="1.3"/>
<circle cx="468.27" cy="96.24" r="1.3"/>
<circle cx="468.27" cy="81.51" r="1.3"/>
<circle cx="468.27" cy="66.78" r="1.3"/>
<circle cx="474.35" cy="214.08" r="1.3"/>
<circle cx="474.35" cy="209.17" r="1.3"/>
<circle cx="474.35" cy="204.26" r="1.3"/>
<circle cx="474.35" cy="199.35" r="1.3"/>
<circle cx="474.35" cy="194.44" r="1.3"/>
<circle cx="474.35" cy="189.53" r="1.3"/>
<circle cx="474.35" cy="184.62" r="1.3"/>
<circle cx="474.35" cy="179.71" r="1.3"/>
<circle cx="474.35" cy="174.8" r="1.3"/>
<circle cx="474.35" cy="169.89" r="1.3"/>
<circle cx="474.35" cy="164.98" r="1.3"/>
<circle cx="474.35" cy="160.07" r="1.3"/>
<circle cx="474.35" cy="155.16" r="1.3"/>
<circle cx="474.35" cy="150.25" r="1.3"/>
<circle cx="474.35" cy="145.34" r="1.3"/>
<circle cx="474.35" cy="140.43" r="1.3"/>
<circle cx="474.35" cy="135.52" r="1.3"/>
<circle cx="474.35" cy="130.61" r="1.3"/>
<circle cx="474.35" cy="125.7" r="1.3"/>
<circle cx="474.35" cy="120.79" r="1.3"/>
<circle cx="474.35" cy="115.88" r="1.3"/>
<circle cx="474.35" cy="101.15" r="1.3"/>
<circle cx="474.35" cy="81.51" r="1.3"/>
<circle cx="474.35" cy="71.69" r="1.3"/>
<circle cx="474.35" cy="66.78" r="1.3"/>
<circle cx="474.35" cy="56.96" r="1.3"/>
<circle cx="474.35" cy="37.32" r="1.3"/>
<circle cx="480.43" cy="218.99" r="1.3"/>
<circle cx="480.43" cy="209.17" r="1.3"/>
<circle cx="480.43" cy="199.35" r="1.3"/>
<circle cx="480.43" cy="194.44" r="1.3"/>
<circle cx="480.43" cy="189.53" r="1.3"/>
<circle cx="480.43" cy="184.62" r="1.3"/>
<circle cx="480.43" cy="179.71" r="1.3"/>
<circle cx="480.43" cy="174.8" r="1.3"/>
<circle cx="480.43" cy="169.89" r="1.3"/>
<circle cx="480.43" cy="164.98" r="1.3"/>
<circle cx="480.43" cy="160.07" r="1.3"/>
<circle cx="480.43" cy="155.16" r="1.3"/>
<circle cx="480.43" cy="150.25" r="1.3"/>
<circle cx="480.43" cy="145.34" r="1.3"/>
<circle cx="480.43" cy="140.43" r="1.3"/>
<circle cx="480.43" cy="135.52" r="1.3"/>
<circle cx="480.43" cy="130.61" r="1.3"/>
<circle cx="480.43" cy="125.7" r="1.3"/>
<circle cx="480.43" cy="120.79" r="1.3"/>
<circle cx="480.43" cy="115.88" r="1.3"/>
<circle cx="480.43" cy="110.97" r="1.3"/>
<circle cx="480.43" cy="106.06" r="1.3"/>
<circle cx="480.43" cy="101.15" r="1.3"/>
<circle cx="480.43" cy="96.24" r="1.3"/>
<circle cx="480.43" cy="86.42" r="1.3"/>
<circle cx="480.43" cy="76.6" r="1.3"/>
<circle cx="480.43" cy="56.96" r="1.3"/>
<circle cx="480.43" cy="52.05" r="1.3"/>
<circle cx="480.43" cy="42.23" r="1.3"/>
<circle cx="486.5" cy="214.08" r="1.3"/>
<circle cx="486.5" cy="209.17" r="1.3"/>
<circle cx="486.5" cy="204.26" r="1.3"/>
<circle cx="486.5" cy="199.35" r="1.3"/>
<circle cx="486.5" cy="194.44" r="1.3"/>
<circle cx="486.5" cy="189.53" r="1.3"/>
<circle cx="486.5" cy="184.62" r="1.3"/>
<circle cx="486.5" cy="179.71" r="1.3"/>
<circle cx="486.5" cy="174.8" r="1.3"/>
<circle cx="486.5" cy="169.89" r="1.3"/>
<circle cx="486.5" cy="164.98" r="1.3"/>
<circle cx="486.5" cy="160.07" r="1.3"/>
<circle cx="486.5" cy="155.16" r="1.3"/>
<circle cx="486.5" cy="150.25" r="1.3"/>
<circle cx="486.5" cy="145.34" r="1.3"/>
<circle cx="486.5" cy="140.43" r="1.3"/>
<circle cx="486.5" cy="135.52" r="1.3"/>
<circle cx="486.5" cy="130.61" r="1.3"/>
<circle cx="486.5" cy="120.79" r="1.3"/>
<circle cx="486.5" cy="115.88" r="1.3"/>
<circle cx="486.5" cy="110.97" r="1.3"/>
<circle cx="486.5" cy="106.06" r="1.3"/>
<circle cx="486.5" cy="101.15" r="1.3"/>
<circle cx="492.57" cy="209.17" r="1.3"/>
<circle cx="492.57" cy="204.26" r="1.3"/>
<circle cx="492.57" cy="199.35" r="1.3"/>
<circle cx="492.57" cy="194.44" r="1.3"/>
<circle cx="492.57" cy="189.53" r="1.3"/>
<circle cx="492.57" cy="184.62" r="1.3"/>
<circle cx="492.57" cy="179.71" r="1.3"/>
<circle cx="492.57" cy="174.8" r="1.3"/>
<circle cx="492.57" cy="169.89" r="1.3"/>
<circle cx="492.57" cy="164.98" r="1.3"/>
<circle cx="492.57" cy="160.07" r="1.3"/>
<circle cx="492.57" cy="155.16" r="1.3"/>
<circle cx="492.57" cy="150.25" r="1.3"/>
<circle cx="492.57" cy="145.34" r="1.3"/>
<circle cx="492.57" cy="140.43" r="1.3"/>
<circle cx="492.57" cy="135.52" r="1.3"/>
<circle cx="492.57" cy="130.61" r="1.3"/>
<circle cx="492.57" cy="125.7" r="1.3"/>
<circle cx="492.57" cy="120.79" r="1.3"/>
<circle cx="492.57" cy="115.88" r="1.3"/>
<circle cx="492.57" cy="110.97" r="1.3"/>
<circle cx="492.57" cy="106.06" r="1.3"/>
<circle cx="492.57" cy="101.15" r="1.3"/>
<circle cx="492.57" cy="91.33" r="1.3"/>
<circle cx="492.57" cy="86.42" r="1.3"/>
<circle cx="498.65" cy="218.99" r="1.3"/>
<circle cx="498.65" cy="209.17" r="1.3"/>
<circle cx="498.65" cy="199.35" r="1.3"/>
<circle cx="498.65" cy="194.44" r="1.3"/>
<circle cx="498.65" cy="184.62" r="1.3"/>
<circle cx="498.65" cy="179.71" r="1.3"/>
<circle cx="498.65" cy="174.8" r="1.3"/>
<circle cx="498.65" cy="169.89" r="1.3"/>
<circle cx="498.65" cy="164.98" r="1.3"/>
<circle cx="498.65" cy="160.07" r="1.3"/>
<circle cx="498.65" cy="155.16" r="1.3"/>
<circle cx="498.65" cy="150.25" r="1.3"/>
<circle cx="498.65" cy="145.34" r="1.3"/>
<circle cx="498.65" cy="140.43" r="1.3"/>
<circle cx="498.65" cy="135.52" r="1.3"/>
<circle cx="498.65" cy="130.61" r="1.3"/>
<circle cx="498.65" cy="125.7" r="1.3"/>
<circle cx="498.65" cy="120.79" r="1.3"/>
<circle cx="498.65" cy="115.88" r="1.3"/>
<circle cx="498.65" cy="110.97" r="1.3"/>
<circle cx="498.65" cy="106.06" r="1.3"/>
<circle cx="498.65" cy="91.33" r="1.3"/>
<circle cx="498.65" cy="86.42" r="1.3"/>
<circle cx="498.65" cy="56.96" r="1.3"/>
<circle cx="498.65" cy="52.05" r="1.3"/>
<circle cx="498.65" cy="47.14" r="1.3"/>
<circle cx="504.73" cy="204.26" r="1.3"/>
<circle cx="504.73" cy="199.35" r="1.3"/>
<circle cx="504.73" cy="194.44" r="1.3"/>
<circle cx="504.73" cy="189.53" r="1.3"/>
<circle cx="504.73" cy="184.62" r="1.3"/>
<circle cx="504.73" cy="179.71" r="1.3"/>
<circle cx="504.73" cy="174.8" r="1.3"/>
<circle cx="504.73" cy="169.89" r="1.3"/>
<circle cx="504.73" cy="164.98" r="1.3"/>
<circle cx="504.73" cy="160.07" r="1.3"/>
<circle cx="504.73" cy="155.16" r="1.3"/>
<circle cx="504.73" cy="150.25" r="1.3"/>
<circle cx="504.73" cy="145.34" r="1.3"/>
<circle cx="504.73" cy="140.43" r="1.3"/>
<circle cx="504.73" cy="135.52" r="1.3"/>
<circle cx="504.73" cy="130.61" r="1.3"/>
<circle cx="504.73" cy="125.7" r="1.3"/>
<circle cx="504.73" cy="120.79" r="1.3"/>
<circle cx="504.73" cy="115.88" r="1.3"/>
<circle cx="504.73" cy="110.97" r="1.3"/>
<circle cx="504.73" cy="106.06" r="1.3"/>
<circle cx="504.73" cy="101.15" r="1.3"/>
<circle cx="504.73" cy="96.24" r="1.3"/>
<circle cx="504.73" cy="91.33" r="1.3"/>
<circle cx="504.73" cy="86.42" r="1.3"/>
<circle cx="504.73" cy="81.51" r="1.3"/>
<circle cx="504.73" cy="71.69" r="1.3"/>
<circle cx="504.73" cy="37.32" r="1.3"/>
<circle cx="510.8" cy="209.17" r="1.3"/>
<circle cx="510.8" cy="199.35" r="1.3"/>
<circle cx="510.8" cy="194.44" r="1.3"/>
<circle cx="510.8" cy="189.53" r="1.3"/>
<circle cx="510.8" cy="184.62" r="1.3"/>
<circle cx="510.8" cy="179.71" r="1.3"/>
<circle cx="510.8" cy="174.8" r="1.3"/>
<circle cx="510.8" cy="169.89" r="1.3"/>
<circle cx="510.8" cy="164.98" r="1.3"/>
<circle cx="510.8" cy="160.07" r="1.3"/>
<circle cx="510.8" cy="155.16" r="1.3"/>
<circle cx="510.8" cy="150.25" r="1.3"/>
<circle cx="510.8" cy="145.34" r="1.3"/>
<circle cx="510.8" cy="140.43" r="1.3"/>
<circle cx="510.8" cy="135.52" r="1.3"/>
<circle cx="510.8" cy="130.61" r="1.3"/>
<circle cx="510.8" cy="125.7" r="1.3"/>
<circle cx="510.8" cy="120.79" r="1.3"/>
<circle cx="510.8" cy="115.88" r="1.3"/>
<circle cx="510.8" cy="110.97" r="1.3"/>
<circle cx="510.8" cy="106.06" r="1.3"/>
<circle cx="510.8" cy="101.15" r="1.3"/>
<circle cx="510.8" cy="96.24" r="1.3"/>
<circle cx="510.8" cy="91.33" r="1.3"/>
<circle cx="510.8" cy="81.51" r="1.3"/>
<circle cx="510.8" cy="66.78" r="1.3"/>
<circle cx="510.8" cy="56.96" r="1.3"/>
<circle cx="516.88" cy="214.08" r="1.3"/>
<circle cx="516.88" cy="199.35" r="1.3"/>
<circle cx="516.88" cy="194.44" r="1.3"/>
<circle cx="516.88" cy="189.53" r="1.3"/>
<circle cx="516.88" cy="179.71" r="1.3"/>
<circle cx="516.88" cy="174.8" r="1.3"/>
<circle cx="516.88" cy="169.89" r="1.3"/>
<circle cx="516.88" cy="164.98" r="1.3"/>
<circle cx="516.88" cy="160.07" r="1.3"/>
<circle cx="516.88" cy="155.16" r="1.3"/>
<circle cx="516.88" cy="150.25" r="1.3"/>
<circle cx="516.88" cy="145.34" r="1.3"/>
<circle cx="516.88" cy="140.43" r="1.3"/>
<circle cx="516.88" cy="135.52" r="1.3"/>
<circle cx="516.88" cy="130.61" r="1.3"/>
<circle cx="516.88" cy="125.7" r="1.3"/>
<circle cx="516.88" cy="120.79" r="1.3"/>
<circle cx="516.88" cy="115.88" r="1.3"/>
<circle cx="516.88" cy="110.97" r="1.3"/>
<circle cx="516.88" cy="106.06" r="1.3"/>
<circle cx="516.88" cy="101.15" r="1.3"/>
<circle cx="516.88" cy="86.42" r="1.3"/>
<circle cx="516.88" cy="81.51" r="1.3"/>
<circle cx="516.88" cy="76.6" r="1.3"/>
<circle cx="516.88" cy="61.87" r="1.3"/>
<circle cx="522.95" cy="194.44" r="1.3"/>
<circle cx="522.95" cy="189.53" r="1.3"/>
<circle cx="522.95" cy="179.71" r="1.3"/>
<circle cx="522.95" cy="174.8" r="1.3"/>
<circle cx="522.95" cy="169.89" r="1.3"/>
<circle cx="522.95" cy="164.98" r="1.3"/>
<circle cx="522.95" cy="160.07" r="1.3"/>
<circle cx="522.95" cy="155.16" r="1.3"/>
<circle cx="522.95" cy="150.25" r="1.3"/>
<circle cx="522.95" cy="145.34" r="1.3"/>
<circle cx="522.95" cy="140.43" r="1.3"/>
<circle cx="522.95" cy="135.52" r="1.3"/>
<circle cx="522.95" cy="130.61" r="1.3"/>
<circle cx="522.95" cy="125.7" r="1.3"/>
<circle cx="522.95" cy="120.79" r="1.3"/>
<circle cx="522.95" cy="115.88" r="1.3"/>
<circle cx="522.95" cy="110.97" r="1.3"/>
<circle cx="522.95" cy="106.06" r="1.3"/>
<circle cx="522.95" cy="101.15" r="1.3"/>
<circle cx="522.95" cy="96.24" r="1.3"/>
<circle cx="522.95" cy="91.33" r="1.3"/>
<circle cx="522.95" cy="86.42" r="1.3"/>
<circle cx="522.95" cy="81.51" r="1.3"/>
<circle cx="522.95" cy="76.6" r="1.3"/>
<circle cx="529.02" cy="204.26" r="1.3"/>
<circle cx="529.02" cy="194.44" r="1.3"/>
<circle cx="529.02" cy="189.53" r="1.3"/>
<circle cx="529.02" cy="179.71" r="1.3"/>
<circle cx="529.02" cy="174.8" r="1.3"/>
<circle cx="529.02" cy="169.89" r="1.3"/>
<circle cx="529.02" cy="164.98" r="1.3"/>
<circle cx="529.02" cy="160.07" r="1.3"/>
<circle cx="529.02" cy="155.16" r="1.3"/>
<circle cx="529.02" cy="150.25" r="1.3"/>
<circle cx="529.02" cy="145.34" r="1.3"/>
<circle cx="529.02" cy="140.43" r="1.3"/>
<circle cx="529.02" cy="135.52" r="1.3"/>
<circle cx="529.02" cy="130.61" r="1.3"/>
<circle cx="529.02" cy="125.7" r="1.3"/>
<circle cx="529.02" cy="120.79" r="1.3"/>
<circle cx="529.02" cy="115.88" r="1.3"/>
<circle cx="529.02" cy="110.97" r="1.3"/>
<circle cx="529.02" cy="106.06" r="1.3"/>
<circle cx="529.02" cy="101.15" r="1.3"/>
<circle cx="529.02" cy="96.24" r="1.3"/>
<circle cx="529.02" cy="91.33" r="1.3"/>
<circle cx="529.02" cy="81.51" r="1.3"/>
<circle cx="529.02" cy="76.6" r="1.3"/>
<circle cx="529.02" cy="71.69" r="1.3"/>
<circle cx="529.02" cy="61.87" r="1.3"/>
<circle cx="529.02" cy="56.96" r="1.3"/>
<circle cx="529.02" cy="42.23" r="1.3"/>
<circle cx="535.1" cy="204.26" r="1.3"/>
<circle cx="535.1" cy="194.44" r="1.3"/>
<circle cx="535.1" cy="189.53" r="1.3"/>
<circle cx="535.1" cy="184.62" r="1.3"/>
<circle cx="535.1" cy="179.71" r="1.3"/>
<circle cx="535.1" cy="174.8" r="1.3"/>
<circle cx="535.1" cy="169.89" r="1.3"/>
<circle cx="535.1" cy="164.98" r="1.3"/>
<circle cx="535.1" cy="160.07" r="1.3"/>
<circle cx="535.1" cy="155.16" r="1.3"/>
<circle cx="535.1" cy="150.25" r="1.3"/>
<circle cx="535.1" cy="145.34" r="1.3"/>
<circle cx="535.1" cy="140.43" r="1.3"/>
<circle cx="535.1" cy="135.52" r="1.3"/>
<circle cx="535.1" cy="130.61" r="1.3"/>
<circle cx="535.1" cy="125.7" r="1.3"/>
<circle cx="535.1" cy="120.79" r="1.3"/>
<circle cx="535.1" cy="115.88" r="1.3"/>
<circle cx="535.1" cy="110.97" r="1.3"/>
<circle cx="535.1" cy="106.06" r="1.3"/>
<circle cx="535.1" cy="101.15" r="1.3"/>
<circle cx="535.1" cy="96.24" r="1.3"/>
<circle cx="535.1" cy="91.33" r="1.3"/>
<circle cx="535.1" cy="86.42" r="1.3"/>
<circle cx="535.1" cy="66.78" r="1.3"/>
<circle cx="535.1" cy="52.05" r="1.3"/>
<circle cx="541.17" cy="204.26" r="1.3"/>
<circle cx="541.17" cy="199.35" r="1.3"/>
<circle cx="541.17" cy="184.62" r="1.3"/>
<circle cx="541.17" cy="179.71" r="1.3"/>
<circle cx="541.17" cy="174.8" r="1.3"/>
<circle cx="541.17" cy="169.89" r="1.3"/>
<circle cx="541.17" cy="164.98" r="1.3"/>
<circle cx="541.17" cy="160.07" r="1.3"/>
<circle cx="541.17" cy="155.16" r="1.3"/>
<circle cx="541.17" cy="150.25" r="1.3"/>
<circle cx="541.17" cy="145.34" r="1.3"/>
<circle cx="541.17" cy="140.43" r="1.3"/>
<circle cx="541.17" cy="135.52" r="1.3"/>
<circle cx="541.17" cy="125.7" r="1.3"/>
<circle cx="541.17" cy="120.79" r="1.3"/>
<circle cx="541.17" cy="115.88" r="1.3"/>
<circle cx="541.17" cy="110.97" r="1.3"/>
<circle cx="541.17" cy="106.06" r="1.3"/>
<circle cx="541.17" cy="101.15" r="1.3"/>
<circle cx="541.17" cy="96.24" r="1.3"/>
<circle cx="541.17" cy="91.33" r="1.3"/>
<circle cx="541.17" cy="86.42" r="1.3"/>
<circle cx="541.17" cy="81.51" r="1.3"/>
<circle cx="541.17" cy="76.6" r="1.3"/>
<circle cx="541.17" cy="71.69" r="1.3"/>
<circle cx="541.17" cy="66.78" r="1.3"/>
<circle cx="541.17" cy="42.23" r="1.3"/>
<circle cx="547.25" cy="199.35" r="1.3"/>
<circle cx="547.25" cy="194.44" r="1.3"/>
<circle cx="547.25" cy="184.62" r="1.3"/>
<circle cx="547.25" cy="174.8" r="1.3"/>
<circle cx="547.25" cy="169.89" r="1.3"/>
<circle cx="547.25" cy="160.07" r="1.3"/>
<circle cx="547.25" cy="155.16" r="1.3"/>
<circle cx="547.25" cy="150.25" r="1.3"/>
<circle cx="547.25" cy="145.34" r="1.3"/>
<circle cx="547.25" cy="140.43" r="1.3"/>
<circle cx="547.25" cy="135.52" r="1.3"/>
<circle cx="547.25" cy="130.61" r="1.3"/>
<circle cx="547.25" cy="125.7" r="1.3"/>
<circle cx="547.25" cy="120.79" r="1.3"/>
<circle cx="547.25" cy="115.88" r="1.3"/>
<circle cx="547.25" cy="110.97" r="1.3"/>
<circle cx="547.25" cy="106.06" r="1.3"/>
<circle cx="547.25" cy="101.15" r="1.3"/>
<circle cx="547.25" cy="96.24" r="1.3"/>
<circle cx="547.25" cy="91.33" r="1.3"/>
<circle cx="547.25" cy="86.42" r="1.3"/>
<circle cx="547.25" cy="81.51" r="1.3"/>
<circle cx="547.25" cy="76.6" r="1.3"/>
<circle cx="547.25" cy="56.96" r="1.3"/>
<circle cx="547.25" cy="52.05" r="1.3"/>
<circle cx="547.25" cy="47.14" r="1.3"/>
<circle cx="547.25" cy="42.23" r="1.3"/>
<circle cx="553.33" cy="204.26" r="1.3"/>
<circle cx="553.33" cy="194.44" r="1.3"/>
<circle cx="553.33" cy="189.53" r="1.3"/>
<circle cx="553.33" cy="179.71" r="1.3"/>
<circle cx="553.33" cy="174.8" r="1.3"/>
<circle cx="553.33" cy="164.98" r="1.3"/>
<circle cx="553.33" cy="155.16" r="1.3"/>
<circle cx="553.33" cy="150.25" r="1.3"/>
<circle cx="553.33" cy="145.34" r="1.3"/>
<circle cx="553.33" cy="140.43" r="1.3"/>
<circle cx="553.33" cy="135.52" r="1.3"/>
<circle cx="553.33" cy="130.61" r="1.3"/>
<circle cx="553.33" cy="125.7" r="1.3"/>
<circle cx="553.33" cy="120.79" r="1.3"/>
<circle cx="553.33" cy="110.97" r="1.3"/>
<circle cx="553.33" cy="106.06" r="1.3"/>
<circle cx="553.33" cy="101.15" r="1.3"/>
<circle cx="553.33" cy="96.24" r="1.3"/>
<circle cx="553.33" cy="91.33" r="1.3"/>
<circle cx="553.33" cy="86.42" r="1.3"/>
<circle cx="553.33" cy="76.6" r="1.3"/>
<circle cx="553.33" cy="61.87" r="1.3"/>
<circle cx="553.33" cy="52.05" r="1.3"/>
<circle cx="559.4" cy="199.35" r="1.3"/>
<circle cx="559.4" cy="189.53" r="1.3"/>
<circle cx="559.4" cy="184.62" r="1.3"/>
<circle cx="559.4" cy="174.8" r="1.3"/>
<circle cx="559.4" cy="169.89" r="1.3"/>
<circle cx="559.4" cy="164.98" r="1.3"/>
<circle cx="559.4" cy="160.07" r="1.3"/>
<circle cx="559.4" cy="155.16" r="1.3"/>
<circle cx="559.4" cy="150.25" r="1.3"/>
<circle cx="559.4" cy="145.34" r="1.3"/>
<circle cx="559.4" cy="140.43" r="1.3"/>
<circle cx="559.4" cy="135.52" r="1.3"/>
<circle cx="559.4" cy="130.61" r="1.3"/>
<circle cx="559.4" cy="125.7" r="1.3"/>
<circle cx="559.4" cy="120.79" r="1.3"/>
<circle cx="559.4" cy="115.88" r="1.3"/>
<circle cx="559.4" cy="110.97" r="1.3"/>
<circle cx="559.4" cy="106.06" r="1.3"/>
<circle cx="559.4" cy="101.15" r="1.3"/>
<circle cx="559.4" cy="96.24" r="1.3"/>
<circle cx="559.4" cy="91.33" r="1.3"/>
<circle cx="559.4" cy="86.42" r="1.3"/>
<circle cx="559.4" cy="81.51" r="1.3"/>
<circle cx="559.4" cy="76.6" r="1.3"/>
<circle cx="559.4" cy="71.69" r="1.3"/>
<circle cx="559.4" cy="66.78" r="1.3"/>
<circle cx="559.4" cy="61.87" r="1.3"/>
<circle cx="559.4" cy="56.96" r="1.3"/>
<circle cx="565.48" cy="189.53" r="1.3"/>
<circle cx="565.48" cy="179.71" r="1.3"/>
<circle cx="565.48" cy="174.8" r="1.3"/>
<circle cx="565.48" cy="164.98" r="1.3"/>
<circle cx="565.48" cy="160.07" r="1.3"/>
<circle cx="565.48" cy="155.16" r="1.3"/>
<circle cx="565.48" cy="150.25" r="1.3"/>
<circle cx="565.48" cy="145.34" r="1.3"/>
<circle cx="565.48" cy="140.43" r="1.3"/>
<circle cx="565.48" cy="135.52" r="1.3"/>
<circle cx="565.48" cy="130.61" r="1.3"/>
<circle cx="565.48" cy="125.7" r="1.3"/>
<circle cx="565.48" cy="120.79" r="1.3"/>
<circle cx="565.48" cy="115.88" r="1.3"/>
<circle cx="565.48" cy="110.97" r="1.3"/>
<circle cx="565.48" cy="106.06" r="1.3"/>
<circle cx="565.48" cy="101.15" r="1.3"/>
<circle cx="565.48" cy="96.24" r="1.3"/>
<circle cx="565.48" cy="91.33" r="1.3"/>
<circle cx="565.48" cy="81.51" r="1.3"/>
<circle cx="565.48" cy="76.6" r="1.3"/>
<circle cx="565.48" cy="71.69" r="1.3"/>
<circle cx="565.48" cy="61.87" r="1.3"/>
<circle cx="565.48" cy="47.14" r="1.3"/>
<circle cx="565.48" cy="32.41" r="1.3"/>
<circle cx="571.55" cy="174.8" r="1.3"/>
<circle cx="571.55" cy="164.98" r="1.3"/>
<circle cx="571.55" cy="160.07" r="1.3"/>
<circle cx="571.55" cy="155.16" r="1.3"/>
<circle cx="571.55" cy="150.25" r="1.3"/>
<circle cx="571.55" cy="145.34" r="1.3"/>
<circle cx="571.55" cy="140.43" r="1.3"/>
<circle cx="571.55" cy="130.61" r="1.3"/>
<circle cx="571.55" cy="125.7" r="1.3"/>
<circle cx="571.55" cy="120.79" r="1.3"/>
<circle cx="571.55" cy="115.88" r="1.3"/>
<circle cx="571.55" cy="110.97" r="1.3"/>
<circle cx="571.55" cy="106.06" r="1.3"/>
<circle cx="571.55" cy="101.15" r="1.3"/>
<circle cx="571.55" cy="96.24" r="1.3"/>
<circle cx="571.55" cy="91.33" r="1.3"/>
<circle cx="571.55" cy="86.42" r="1.3"/>
<circle cx="571.55" cy="81.51" r="1.3"/>
<circle cx="571.55" cy="76.6" r="1.3"/>
<circle cx="571.55" cy="66.78" r="1.3"/>
<circle cx="571.55" cy="61.87" r="1.3"/>
<circle cx="571.55" cy="56.96" r="1.3"/>
<circle cx="571.55" cy="37.32" r="1.3"/>
<circle cx="577.62" cy="184.62" r="1.3"/>
<circle cx="577.62" cy="174.8" r="1.3"/>
<circle cx="577.62" cy="164.98" r="1.3"/>
<circle cx="577.62" cy="160.07" r="1.3"/>
<circle cx="577.62" cy="155.16" r="1.3"/>
<circle cx="577.62" cy="145.34" r="1.3"/>
<circle cx="577.62" cy="135.52" r="1.3"/>
<circle cx="577.62" cy="125.7" r="1.3"/>
<circle cx="577.62" cy="120.79" r="1.3"/>
<circle cx="577.62" cy="115.88" r="1.3"/>
<circle cx="577.62" cy="110.97" r="1.3"/>
<circle cx="577.62" cy="106.06" r="1.3"/>
<circle cx="577.62" cy="101.15" r="1.3"/>
<circle cx="577.62" cy="96.24" r="1.3"/>
<circle cx="577.62" cy="91.33" r="1.3"/>
<circle cx="577.62" cy="86.42" r="1.3"/>
<circle cx="577.62" cy="81.51" r="1.3"/>
<circle cx="577.62" cy="76.6" r="1.3"/>
<circle cx="577.62" cy="71.69" r="1.3"/>
<circle cx="577.62" cy="61.87" r="1.3"/>
<circle cx="577.62" cy="42.23" r="1.3"/>
<circle cx="583.7" cy="184.62" r="1.3"/>
<circle cx="583.7" cy="174.8" r="1.3"/>
<circle cx="583.7" cy="169.89" r="1.3"/>
<circle cx="583.7" cy="150.25" r="1.3"/>
<circle cx="583.7" cy="145.34" r="1.3"/>
<circle cx="583.7" cy="140.43" r="1.3"/>
<circle cx="583.7" cy="135.52" r="1.3"/>
<circle cx="583.7" cy="130.61" r="1.3"/>
<circle cx="583.7" cy="125.7" r="1.3"/>
<circle cx="583.7" cy="115.88" r="1.3"/>
<circle cx="583.7" cy="106.06" r="1.3"/>
<circle cx="583.7" cy="101.15" r="1.3"/>
<circle cx="583.7" cy="96.24" r="1.3"/>
<circle cx="583.7" cy="91.33" r="1.3"/>
<circle cx="583.7" cy="86.42" r="1.3"/>
<circle cx="583.7" cy="76.6" r="1.3"/>
<circle cx="583.7" cy="71.69" r="1.3"/>
<circle cx="583.7" cy="61.87" r="1.3"/>
<circle cx="583.7" cy="52.05" r="1.3"/>
<circle cx="583.7" cy="47.14" r="1.3"/>
<circle cx="583.7" cy="42.23" r="1.3"/>
<circle cx="589.77" cy="164.98" r="1.3"/>
<circle cx="589.77" cy="160.07" r="1.3"/>
<circle cx="589.77" cy="155.16" r="1.3"/>
<circle cx="589.77" cy="150.25" r="1.3"/>
<circle cx="589.77" cy="135.52" r="1.3"/>
<circle cx="589.77" cy="125.7" r="1.3"/>
<circle cx="589.77" cy="120.79" r="1.3"/>
<circle cx="589.77" cy="110.97" r="1.3"/>
<circle cx="589.77" cy="106.06" r="1.3"/>
<circle cx="589.77" cy="101.15" r="1.3"/>
<circle cx="589.77" cy="96.24" r="1.3"/>
<circle cx="589.77" cy="91.33" r="1.3"/>
<circle cx="589.77" cy="86.42" r="1.3"/>
<circle cx="589.77" cy="76.6" r="1.3"/>
<circle cx="589.77" cy="71.69" r="1.3"/>
<circle cx="589.77" cy="66.78" r="1.3"/>
<circle cx="589.77" cy="52.05" r="1.3"/>
<circle cx="589.77" cy="47.14" r="1.3"/>
<circle cx="589.77" cy="42.23" r="1.3"/>
<circle cx="595.85" cy="174.8" r="1.3"/>
<circle cx="595.85" cy="160.07" r="1.3"/>
<circle cx="595.85" cy="135.52" r="1.3"/>
<circle cx="595.85" cy="120.79" r="1.3"/>
<circle cx="595.85" cy="110.97" r="1.3"/>
<circle cx="595.85" cy="106.06" r="1.3"/>
<circle cx="595.85" cy="101.15" r="1.3"/>
<circle cx="595.85" cy="96.24" r="1.3"/>
<circle cx="595.85" cy="86.42" r="1.3"/>
<circle cx="595.85" cy="81.51" r="1.3"/>
<circle cx="595.85" cy="56.96" r="1.3"/>
<circle cx="595.85" cy="47.14" r="1.3"/>
<circle cx="601.92" cy="169.89" r="1.3"/>
<circle cx="601.92" cy="145.34" r="1.3"/>
<circle cx="601.92" cy="130.61" r="1.3"/>
<circle cx="601.92" cy="125.7" r="1.3"/>
<circle cx="601.92" cy="120.79" r="1.3"/>
<circle cx="601.92" cy="110.97" r="1.3"/>
<circle cx="601.92" cy="106.06" r="1.3"/>
<circle cx="601.92" cy="86.42" r="1.3"/>
<circle cx="601.92" cy="81.51" r="1.3"/>
<circle cx="601.92" cy="76.6" r="1.3"/>
<circle cx="601.92" cy="71.69" r="1.3"/>
<circle cx="601.92" cy="66.78" r="1.3"/>
<circle cx="601.92" cy="52.05" r="1.3"/>
<circle cx="608" cy="160.07" r="1.3"/>
<circle cx="608" cy="150.25" r="1.3"/>
<circle cx="608" cy="125.7" r="1.3"/>
<circle cx="608" cy="120.79" r="1.3"/>
<circle cx="608" cy="115.88" r="1.3"/>
<circle cx="608" cy="110.97" r="1.3"/>
<circle cx="608" cy="106.06" r="1.3"/>
<circle cx="608" cy="101.15" r="1.3"/>
<circle cx="608" cy="91.33" r="1.3"/>
<circle cx="608" cy="81.51" r="1.3"/>
<circle cx="608" cy="76.6" r="1.3"/>
<circle cx="608" cy="71.69" r="1.3"/>
<circle cx="608" cy="66.78" r="1.3"/>
<circle cx="608" cy="61.87" r="1.3"/>
<circle cx="608" cy="47.14" r="1.3"/>
<circle cx="608" cy="42.23" r="1.3"/>
<circle cx="608" cy="32.41" r="1.3"/>
<circle cx="614.08" cy="160.07" r="1.3"/>
<circle cx="614.08" cy="145.34" r="1.3"/>
<circle cx="614.08" cy="140.43" r="1.3"/>
<circle cx="614.08" cy="135.52" r="1.3"/>
<circle cx="614.08" cy="130.61" r="1.3"/>
<circle cx="614.08" cy="120.79" r="1.3"/>
<circle cx="614.08" cy="115.88" r="1.3"/>
<circle cx="614.08" cy="110.97" r="1.3"/>
<circle cx="614.08" cy="96.24" r="1.3"/>
<circle cx="614.08" cy="86.42" r="1.3"/>
<circle cx="614.08" cy="81.51" r="1.3"/>
<circle cx="614.08" cy="76.6" r="1.3"/>
<circle cx="614.08" cy="56.96" r="1.3"/>
<circle cx="620.15" cy="145.34" r="1.3"/>
<circle cx="620.15" cy="140.43" r="1.3"/>
<circle cx="620.15" cy="130.61" r="1.3"/>
<circle cx="620.15" cy="120.79" r="1.3"/>
<circle cx="620.15" cy="115.88" r="1.3"/>
<circle cx="620.15" cy="110.97" r="1.3"/>
<circle cx="620.15" cy="101.15" r="1.3"/>
<circle cx="620.15" cy="96.24" r="1.3"/>
<circle cx="620.15" cy="91.33" r="1.3"/>
<circle cx="620.15" cy="76.6" r="1.3"/>
<circle cx="626.23" cy="150.25" r="1.3"/>
<circle cx="626.23" cy="145.34" r="1.3"/>
<circle cx="626.23" cy="135.52" r="1.3"/>
<circle cx="626.23" cy="110.97" r="1.3"/>
<circle cx="626.23" cy="101.15" r="1.3"/>
<circle cx="626.23" cy="91.33" r="1.3"/>
<circle cx="626.23" cy="76.6" r="1.3"/>
<circle cx="626.23" cy="66.78" r="1.3"/>
<circle cx="626.23" cy="61.87" r="1.3"/>
<circle cx="626.23" cy="56.96" r="1.3"/>
<circle cx="626.23" cy="52.05" r="1.3"/>
<circle cx="626.23" cy="47.14" r="1.3"/>
<circle cx="632.3" cy="145.34" r="1.3"/>
<circle cx="632.3" cy="120.79" r="1.3"/>
<circle cx="632.3" cy="115.88" r="1.3"/>
<circle cx="632.3" cy="106.06" r="1.3"/>
<circle cx="632.3" cy="101.15" r="1.3"/>
<circle cx="632.3" cy="91.33" r="1.3"/>
<circle cx="632.3" cy="71.69" r="1.3"/>
<circle cx="632.3" cy="66.78" r="1.3"/>
<circle cx="632.3" cy="61.87" r="1.3"/>
<circle cx="632.3" cy="47.14" r="1.3"/>
<circle cx="638.38" cy="140.43" r="1.3"/>
<circle cx="638.38" cy="115.88" r="1.3"/>
<circle cx="638.38" cy="110.97" r="1.3"/>
<circle cx="638.38" cy="101.15" r="1.3"/>
<circle cx="638.38" cy="91.33" r="1.3"/>
<circle cx="638.38" cy="76.6" r="1.3"/>
<circle cx="638.38" cy="71.69" r="1.3"/>
<circle cx="638.38" cy="52.05" r="1.3"/>
<circle cx="644.45" cy="91.33" r="1.3"/>
<circle cx="644.45" cy="76.6" r="1.3"/>
<circle cx="644.45" cy="61.87" r="1.3"/>
<circle cx="644.45" cy="56.96" r="1.3"/>
<circle cx="644.45" cy="52.05" r="1.3"/>
<circle cx="644.45" cy="37.32" r="1.3"/>
<circle cx="644.45" cy="32.41" r="1.3"/>
<circle cx="650.52" cy="91.33" r="1.3"/>
<circle cx="650.52" cy="81.51" r="1.3"/>
<circle cx="650.52" cy="76.6" r="1.3"/>
<circle cx="650.52" cy="71.69" r="1.3"/>
<circle cx="650.52" cy="56.96" r="1.3"/>
<circle cx="656.6" cy="106.06" r="1.3"/>
<circle cx="656.6" cy="101.15" r="1.3"/>
<circle cx="656.6" cy="61.87" r="1.3"/>
<circle cx="662.67" cy="52.05" r="1.3"/>
<circle cx="662.67" cy="47.14" r="1.3"/>
<circle cx="662.67" cy="42.23" r="1.3"/>
<circle cx="668.75" cy="115.88" r="1.3"/>
<circle cx="668.75" cy="91.33" r="1.3"/>
<circle cx="668.75" cy="86.42" r="1.3"/>
<circle cx="680.9" cy="101.15" r="1.3"/>
<circle cx="680.9" cy="71.69" r="1.3"/>
<circle cx="705.2" cy="61.87" r="1.3"/>
<circle cx="711.28" cy="42.23" r="1.3"/>
</g>
<rect x="53.5" y="316.5" width="301" height="203.5" fill="none" stroke="#3a3a3a" stroke-width="1"/>
<line x1="53.5" x2="354.5" y1="340.5" y2="340.5" stroke="#333" stroke-width="1" stroke-dasharray="1.55 1.55"/>
<line x1="53.5" x2="354.5" y1="401.5" y2="401.5" stroke="#333" stroke-width="1" stroke-dasharray="1.55 1.55"/>
<line x1="53.5" x2="354.5" y1="462.5" y2="462.5" stroke="#333" stroke-width="1" stroke-dasharray="1.55 1.55"/>
<line x1="58.2" x2="58.2" y1="520" y2="524.3" stroke="#3a3a3a" stroke-width="1"/>
<text x="58.2" y="539.3" text-anchor="middle" class="tk">0</text>
<line x1="126.08" x2="126.08" y1="520" y2="524.3" stroke="#3a3a3a" stroke-width="1"/>
<text x="126.08" y="539.3" text-anchor="middle" class="tk">10</text>
<line x1="193.95" x2="193.95" y1="520" y2="524.3" stroke="#3a3a3a" stroke-width="1"/>
<text x="193.95" y="539.3" text-anchor="middle" class="tk">20</text>
<line x1="261.82" x2="261.82" y1="520" y2="524.3" stroke="#3a3a3a" stroke-width="1"/>
<text x="261.82" y="539.3" text-anchor="middle" class="tk">30</text>
<line x1="329.7" x2="329.7" y1="520" y2="524.3" stroke="#3a3a3a" stroke-width="1"/>
<text x="329.7" y="539.3" text-anchor="middle" class="tk">40</text>
<line x1="49.2" x2="53.5" y1="490.5" y2="490.5" stroke="#3a3a3a" stroke-width="1"/>
<text x="45.1" y="494.8" text-anchor="end" class="tk">–20</text>
<line x1="49.2" x2="53.5" y1="446.84" y2="446.84" stroke="#3a3a3a" stroke-width="1"/>
<text x="45.1" y="451.14" text-anchor="end" class="tk">–10</text>
<line x1="49.2" x2="53.5" y1="403.17" y2="403.17" stroke="#3a3a3a" stroke-width="1"/>
<text x="45.1" y="407.47" text-anchor="end" class="tk">0</text>
<line x1="49.2" x2="53.5" y1="359.5" y2="359.5" stroke="#3a3a3a" stroke-width="1"/>
<text x="45.1" y="363.8" text-anchor="end" class="tk">10</text>
<g fill="#fff" stroke="#9c1f52" stroke-width="1.05">
<circle cx="64.6" cy="403.17" r="1.3"/>
<circle cx="81.6" cy="425" r="1.3"/>
<circle cx="98.6" cy="446.84" r="1.3"/>
<circle cx="81.6" cy="416.27" r="1.3"/>
<circle cx="71.4" cy="394.44" r="1.3"/>
<circle cx="74.8" cy="398.8" r="1.3"/>
<circle cx="78.2" cy="403.17" r="1.3"/>
<circle cx="81.6" cy="407.54" r="1.3"/>
<circle cx="88.4" cy="416.27" r="1.3"/>
<circle cx="91.8" cy="420.64" r="1.3"/>
<circle cx="78.2" cy="394.44" r="1.3"/>
<circle cx="95.2" cy="416.27" r="1.3"/>
<circle cx="105.4" cy="429.37" r="1.3"/>
<circle cx="108.8" cy="433.74" r="1.3"/>
<circle cx="112.2" cy="438.1" r="1.3"/>
<circle cx="115.6" cy="442.47" r="1.3"/>
<circle cx="78.2" cy="385.7" r="1.3"/>
<circle cx="85" cy="394.44" r="1.3"/>
<circle cx="88.4" cy="398.8" r="1.3"/>
<circle cx="95.2" cy="407.54" r="1.3"/>
<circle cx="119" cy="438.1" r="1.3"/>
<circle cx="170" cy="503.6" r="1.3"/>
<circle cx="102" cy="407.54" r="1.3"/>
<circle cx="105.4" cy="411.9" r="1.3"/>
<circle cx="108.8" cy="416.27" r="1.3"/>
<circle cx="112.2" cy="420.64" r="1.3"/>
<circle cx="136" cy="451.2" r="1.3"/>
<circle cx="95.2" cy="390.07" r="1.3"/>
<circle cx="98.6" cy="394.44" r="1.3"/>
<circle cx="102" cy="398.8" r="1.3"/>
<circle cx="105.4" cy="403.17" r="1.3"/>
<circle cx="108.8" cy="407.54" r="1.3"/>
<circle cx="112.2" cy="411.9" r="1.3"/>
<circle cx="115.6" cy="416.27" r="1.3"/>
<circle cx="119" cy="420.64" r="1.3"/>
<circle cx="122.4" cy="425" r="1.3"/>
<circle cx="156.4" cy="468.67" r="1.3"/>
<circle cx="91.8" cy="376.97" r="1.3"/>
<circle cx="102" cy="390.07" r="1.3"/>
<circle cx="112.2" cy="403.17" r="1.3"/>
<circle cx="115.6" cy="407.54" r="1.3"/>
<circle cx="119" cy="411.9" r="1.3"/>
<circle cx="122.4" cy="416.27" r="1.3"/>
<circle cx="129.2" cy="425" r="1.3"/>
<circle cx="132.6" cy="429.37" r="1.3"/>
<circle cx="136" cy="433.74" r="1.3"/>
<circle cx="139.4" cy="438.1" r="1.3"/>
<circle cx="146.2" cy="446.84" r="1.3"/>
<circle cx="149.6" cy="451.2" r="1.3"/>
<circle cx="153" cy="455.57" r="1.3"/>
<circle cx="91.8" cy="368.24" r="1.3"/>
<circle cx="98.6" cy="376.97" r="1.3"/>
<circle cx="105.4" cy="385.7" r="1.3"/>
<circle cx="112.2" cy="394.44" r="1.3"/>
<circle cx="115.6" cy="398.8" r="1.3"/>
<circle cx="119" cy="403.17" r="1.3"/>
<circle cx="122.4" cy="407.54" r="1.3"/>
<circle cx="129.2" cy="416.27" r="1.3"/>
<circle cx="132.6" cy="420.64" r="1.3"/>
<circle cx="139.4" cy="429.37" r="1.3"/>
<circle cx="146.2" cy="438.1" r="1.3"/>
<circle cx="149.6" cy="442.47" r="1.3"/>
<circle cx="153" cy="446.84" r="1.3"/>
<circle cx="183.6" cy="486.14" r="1.3"/>
<circle cx="105.4" cy="376.97" r="1.3"/>
<circle cx="108.8" cy="381.34" r="1.3"/>
<circle cx="112.2" cy="385.7" r="1.3"/>
<circle cx="115.6" cy="390.07" r="1.3"/>
<circle cx="122.4" cy="398.8" r="1.3"/>
<circle cx="125.8" cy="403.17" r="1.3"/>
<circle cx="129.2" cy="407.54" r="1.3"/>
<circle cx="132.6" cy="411.9" r="1.3"/>
<circle cx="146.2" cy="429.37" r="1.3"/>
<circle cx="156.4" cy="442.47" r="1.3"/>
<circle cx="163.2" cy="451.2" r="1.3"/>
<circle cx="176.8" cy="468.67" r="1.3"/>
<circle cx="112.2" cy="376.97" r="1.3"/>
<circle cx="122.4" cy="390.07" r="1.3"/>
<circle cx="125.8" cy="394.44" r="1.3"/>
<circle cx="132.6" cy="403.17" r="1.3"/>
<circle cx="142.8" cy="416.27" r="1.3"/>
<circle cx="146.2" cy="420.64" r="1.3"/>
<circle cx="149.6" cy="425" r="1.3"/>
<circle cx="153" cy="429.37" r="1.3"/>
<circle cx="156.4" cy="433.74" r="1.3"/>
<circle cx="163.2" cy="442.47" r="1.3"/>
<circle cx="170" cy="451.2" r="1.3"/>
<circle cx="173.4" cy="455.57" r="1.3"/>
<circle cx="180.2" cy="464.3" r="1.3"/>
<circle cx="187" cy="473.04" r="1.3"/>
<circle cx="115.6" cy="372.6" r="1.3"/>
<circle cx="119" cy="376.97" r="1.3"/>
<circle cx="125.8" cy="385.7" r="1.3"/>
<circle cx="129.2" cy="390.07" r="1.3"/>
<circle cx="132.6" cy="394.44" r="1.3"/>
<circle cx="136" cy="398.8" r="1.3"/>
<circle cx="139.4" cy="403.17" r="1.3"/>
<circle cx="142.8" cy="407.54" r="1.3"/>
<circle cx="146.2" cy="411.9" r="1.3"/>
<circle cx="149.6" cy="416.27" r="1.3"/>
<circle cx="153" cy="420.64" r="1.3"/>
<circle cx="156.4" cy="425" r="1.3"/>
<circle cx="159.8" cy="429.37" r="1.3"/>
<circle cx="163.2" cy="433.74" r="1.3"/>
<circle cx="166.6" cy="438.1" r="1.3"/>
<circle cx="170" cy="442.47" r="1.3"/>
<circle cx="176.8" cy="451.2" r="1.3"/>
<circle cx="180.2" cy="455.57" r="1.3"/>
<circle cx="193.8" cy="473.04" r="1.3"/>
<circle cx="217.6" cy="503.6" r="1.3"/>
<circle cx="221" cy="507.97" r="1.3"/>
<circle cx="115.6" cy="363.87" r="1.3"/>
<circle cx="125.8" cy="376.97" r="1.3"/>
<circle cx="129.2" cy="381.34" r="1.3"/>
<circle cx="132.6" cy="385.7" r="1.3"/>
<circle cx="136" cy="390.07" r="1.3"/>
<circle cx="139.4" cy="394.44" r="1.3"/>
<circle cx="142.8" cy="398.8" r="1.3"/>
<circle cx="146.2" cy="403.17" r="1.3"/>
<circle cx="149.6" cy="407.54" r="1.3"/>
<circle cx="153" cy="411.9" r="1.3"/>
<circle cx="159.8" cy="420.64" r="1.3"/>
<circle cx="163.2" cy="425" r="1.3"/>
<circle cx="166.6" cy="429.37" r="1.3"/>
<circle cx="170" cy="433.74" r="1.3"/>
<circle cx="176.8" cy="442.47" r="1.3"/>
<circle cx="180.2" cy="446.84" r="1.3"/>
<circle cx="183.6" cy="451.2" r="1.3"/>
<circle cx="193.8" cy="464.3" r="1.3"/>
<circle cx="200.6" cy="473.04" r="1.3"/>
<circle cx="207.4" cy="481.77" r="1.3"/>
<circle cx="231.2" cy="512.34" r="1.3"/>
<circle cx="125.8" cy="368.24" r="1.3"/>
<circle cx="129.2" cy="372.6" r="1.3"/>
<circle cx="132.6" cy="376.97" r="1.3"/>
<circle cx="136" cy="381.34" r="1.3"/>
<circle cx="142.8" cy="390.07" r="1.3"/>
<circle cx="146.2" cy="394.44" r="1.3"/>
<circle cx="149.6" cy="398.8" r="1.3"/>
<circle cx="153" cy="403.17" r="1.3"/>
<circle cx="156.4" cy="407.54" r="1.3"/>
<circle cx="159.8" cy="411.9" r="1.3"/>
<circle cx="163.2" cy="416.27" r="1.3"/>
<circle cx="166.6" cy="420.64" r="1.3"/>
<circle cx="170" cy="425" r="1.3"/>
<circle cx="173.4" cy="429.37" r="1.3"/>
<circle cx="176.8" cy="433.74" r="1.3"/>
<circle cx="180.2" cy="438.1" r="1.3"/>
<circle cx="183.6" cy="442.47" r="1.3"/>
<circle cx="187" cy="446.84" r="1.3"/>
<circle cx="214.2" cy="481.77" r="1.3"/>
<circle cx="221" cy="490.5" r="1.3"/>
<circle cx="125.8" cy="359.5" r="1.3"/>
<circle cx="129.2" cy="363.87" r="1.3"/>
<circle cx="132.6" cy="368.24" r="1.3"/>
<circle cx="139.4" cy="376.97" r="1.3"/>
<circle cx="142.8" cy="381.34" r="1.3"/>
<circle cx="146.2" cy="385.7" r="1.3"/>
<circle cx="149.6" cy="390.07" r="1.3"/>
<circle cx="153" cy="394.44" r="1.3"/>
<circle cx="156.4" cy="398.8" r="1.3"/>
<circle cx="159.8" cy="403.17" r="1.3"/>
<circle cx="163.2" cy="407.54" r="1.3"/>
<circle cx="166.6" cy="411.9" r="1.3"/>
<circle cx="170" cy="416.27" r="1.3"/>
<circle cx="173.4" cy="420.64" r="1.3"/>
<circle cx="176.8" cy="425" r="1.3"/>
<circle cx="180.2" cy="429.37" r="1.3"/>
<circle cx="183.6" cy="433.74" r="1.3"/>
<circle cx="187" cy="438.1" r="1.3"/>
<circle cx="190.4" cy="442.47" r="1.3"/>
<circle cx="204" cy="459.94" r="1.3"/>
<circle cx="210.8" cy="468.67" r="1.3"/>
<circle cx="221" cy="481.77" r="1.3"/>
<circle cx="136" cy="363.87" r="1.3"/>
<circle cx="142.8" cy="372.6" r="1.3"/>
<circle cx="146.2" cy="376.97" r="1.3"/>
<circle cx="149.6" cy="381.34" r="1.3"/>
<circle cx="153" cy="385.7" r="1.3"/>
<circle cx="156.4" cy="390.07" r="1.3"/>
<circle cx="159.8" cy="394.44" r="1.3"/>
<circle cx="163.2" cy="398.8" r="1.3"/>
<circle cx="166.6" cy="403.17" r="1.3"/>
<circle cx="170" cy="407.54" r="1.3"/>
<circle cx="173.4" cy="411.9" r="1.3"/>
<circle cx="176.8" cy="416.27" r="1.3"/>
<circle cx="180.2" cy="420.64" r="1.3"/>
<circle cx="183.6" cy="425" r="1.3"/>
<circle cx="187" cy="429.37" r="1.3"/>
<circle cx="190.4" cy="433.74" r="1.3"/>
<circle cx="193.8" cy="438.1" r="1.3"/>
<circle cx="197.2" cy="442.47" r="1.3"/>
<circle cx="204" cy="451.2" r="1.3"/>
<circle cx="207.4" cy="455.57" r="1.3"/>
<circle cx="210.8" cy="459.94" r="1.3"/>
<circle cx="214.2" cy="464.3" r="1.3"/>
<circle cx="136" cy="355.14" r="1.3"/>
<circle cx="139.4" cy="359.5" r="1.3"/>
<circle cx="146.2" cy="368.24" r="1.3"/>
<circle cx="149.6" cy="372.6" r="1.3"/>
<circle cx="153" cy="376.97" r="1.3"/>
<circle cx="156.4" cy="381.34" r="1.3"/>
<circle cx="159.8" cy="385.7" r="1.3"/>
<circle cx="163.2" cy="390.07" r="1.3"/>
<circle cx="166.6" cy="394.44" r="1.3"/>
<circle cx="170" cy="398.8" r="1.3"/>
<circle cx="173.4" cy="403.17" r="1.3"/>
<circle cx="176.8" cy="407.54" r="1.3"/>
<circle cx="180.2" cy="411.9" r="1.3"/>
<circle cx="183.6" cy="416.27" r="1.3"/>
<circle cx="187" cy="420.64" r="1.3"/>
<circle cx="190.4" cy="425" r="1.3"/>
<circle cx="193.8" cy="429.37" r="1.3"/>
<circle cx="197.2" cy="433.74" r="1.3"/>
<circle cx="200.6" cy="438.1" r="1.3"/>
<circle cx="204" cy="442.47" r="1.3"/>
<circle cx="207.4" cy="446.84" r="1.3"/>
<circle cx="214.2" cy="455.57" r="1.3"/>
<circle cx="217.6" cy="459.94" r="1.3"/>
<circle cx="221" cy="464.3" r="1.3"/>
<circle cx="227.8" cy="473.04" r="1.3"/>
<circle cx="231.2" cy="477.4" r="1.3"/>
<circle cx="241.4" cy="490.5" r="1.3"/>
<circle cx="132.6" cy="342.04" r="1.3"/>
<circle cx="139.4" cy="350.77" r="1.3"/>
<circle cx="142.8" cy="355.14" r="1.3"/>
<circle cx="146.2" cy="359.5" r="1.3"/>
<circle cx="149.6" cy="363.87" r="1.3"/>
<circle cx="153" cy="368.24" r="1.3"/>
<circle cx="156.4" cy="372.6" r="1.3"/>
<circle cx="159.8" cy="376.97" r="1.3"/>
<circle cx="163.2" cy="381.34" r="1.3"/>
<circle cx="166.6" cy="385.7" r="1.3"/>
<circle cx="170" cy="390.07" r="1.3"/>
<circle cx="173.4" cy="394.44" r="1.3"/>
<circle cx="176.8" cy="398.8" r="1.3"/>
<circle cx="180.2" cy="403.17" r="1.3"/>
<circle cx="183.6" cy="407.54" r="1.3"/>
<circle cx="187" cy="411.9" r="1.3"/>
<circle cx="190.4" cy="416.27" r="1.3"/>
<circle cx="193.8" cy="420.64" r="1.3"/>
<circle cx="197.2" cy="425" r="1.3"/>
<circle cx="200.6" cy="429.37" r="1.3"/>
<circle cx="204" cy="433.74" r="1.3"/>
<circle cx="207.4" cy="438.1" r="1.3"/>
<circle cx="210.8" cy="442.47" r="1.3"/>
<circle cx="214.2" cy="446.84" r="1.3"/>
<circle cx="227.8" cy="464.3" r="1.3"/>
<circle cx="238" cy="477.4" r="1.3"/>
<circle cx="136" cy="337.67" r="1.3"/>
<circle cx="139.4" cy="342.04" r="1.3"/>
<circle cx="149.6" cy="355.14" r="1.3"/>
<circle cx="153" cy="359.5" r="1.3"/>
<circle cx="156.4" cy="363.87" r="1.3"/>
<circle cx="159.8" cy="368.24" r="1.3"/>
<circle cx="163.2" cy="372.6" r="1.3"/>
<circle cx="166.6" cy="376.97" r="1.3"/>
<circle cx="170" cy="381.34" r="1.3"/>
<circle cx="173.4" cy="385.7" r="1.3"/>
<circle cx="176.8" cy="390.07" r="1.3"/>
<circle cx="180.2" cy="394.44" r="1.3"/>
<circle cx="183.6" cy="398.8" r="1.3"/>
<circle cx="190.4" cy="407.54" r="1.3"/>
<circle cx="193.8" cy="411.9" r="1.3"/>
<circle cx="197.2" cy="416.27" r="1.3"/>
<circle cx="200.6" cy="420.64" r="1.3"/>
<circle cx="204" cy="425" r="1.3"/>
<circle cx="207.4" cy="429.37" r="1.3"/>
<circle cx="210.8" cy="433.74" r="1.3"/>
<circle cx="214.2" cy="438.1" r="1.3"/>
<circle cx="217.6" cy="442.47" r="1.3"/>
<circle cx="221" cy="446.84" r="1.3"/>
<circle cx="224.4" cy="451.2" r="1.3"/>
<circle cx="227.8" cy="455.57" r="1.3"/>
<circle cx="231.2" cy="459.94" r="1.3"/>
<circle cx="248.2" cy="481.77" r="1.3"/>
<circle cx="142.8" cy="337.67" r="1.3"/>
<circle cx="146.2" cy="342.04" r="1.3"/>
<circle cx="153" cy="350.77" r="1.3"/>
<circle cx="159.8" cy="359.5" r="1.3"/>
<circle cx="163.2" cy="363.87" r="1.3"/>
<circle cx="170" cy="372.6" r="1.3"/>
<circle cx="173.4" cy="376.97" r="1.3"/>
<circle cx="176.8" cy="381.34" r="1.3"/>
<circle cx="180.2" cy="385.7" r="1.3"/>
<circle cx="183.6" cy="390.07" r="1.3"/>
<circle cx="187" cy="394.44" r="1.3"/>
<circle cx="190.4" cy="398.8" r="1.3"/>
<circle cx="193.8" cy="403.17" r="1.3"/>
<circle cx="197.2" cy="407.54" r="1.3"/>
<circle cx="200.6" cy="411.9" r="1.3"/>
<circle cx="204" cy="416.27" r="1.3"/>
<circle cx="207.4" cy="420.64" r="1.3"/>
<circle cx="210.8" cy="425" r="1.3"/>
<circle cx="214.2" cy="429.37" r="1.3"/>
<circle cx="217.6" cy="433.74" r="1.3"/>
<circle cx="221" cy="438.1" r="1.3"/>
<circle cx="224.4" cy="442.47" r="1.3"/>
<circle cx="227.8" cy="446.84" r="1.3"/>
<circle cx="241.4" cy="464.3" r="1.3"/>
<circle cx="244.8" cy="468.67" r="1.3"/>
<circle cx="248.2" cy="473.04" r="1.3"/>
<circle cx="251.6" cy="477.4" r="1.3"/>
<circle cx="142.8" cy="328.94" r="1.3"/>
<circle cx="149.6" cy="337.67" r="1.3"/>
<circle cx="153" cy="342.04" r="1.3"/>
<circle cx="159.8" cy="350.77" r="1.3"/>
<circle cx="163.2" cy="355.14" r="1.3"/>
<circle cx="170" cy="363.87" r="1.3"/>
<circle cx="176.8" cy="372.6" r="1.3"/>
<circle cx="180.2" cy="376.97" r="1.3"/>
<circle cx="183.6" cy="381.34" r="1.3"/>
<circle cx="187" cy="385.7" r="1.3"/>
<circle cx="190.4" cy="390.07" r="1.3"/>
<circle cx="193.8" cy="394.44" r="1.3"/>
<circle cx="197.2" cy="398.8" r="1.3"/>
<circle cx="200.6" cy="403.17" r="1.3"/>
<circle cx="207.4" cy="411.9" r="1.3"/>
<circle cx="210.8" cy="416.27" r="1.3"/>
<circle cx="214.2" cy="420.64" r="1.3"/>
<circle cx="217.6" cy="425" r="1.3"/>
<circle cx="221" cy="429.37" r="1.3"/>
<circle cx="224.4" cy="433.74" r="1.3"/>
<circle cx="231.2" cy="442.47" r="1.3"/>
<circle cx="241.4" cy="455.57" r="1.3"/>
<circle cx="248.2" cy="464.3" r="1.3"/>
<circle cx="149.6" cy="328.94" r="1.3"/>
<circle cx="156.4" cy="337.67" r="1.3"/>
<circle cx="159.8" cy="342.04" r="1.3"/>
<circle cx="166.6" cy="350.77" r="1.3"/>
<circle cx="170" cy="355.14" r="1.3"/>
<circle cx="173.4" cy="359.5" r="1.3"/>
<circle cx="176.8" cy="363.87" r="1.3"/>
<circle cx="180.2" cy="368.24" r="1.3"/>
<circle cx="183.6" cy="372.6" r="1.3"/>
<circle cx="187" cy="376.97" r="1.3"/>
<circle cx="190.4" cy="381.34" r="1.3"/>
<circle cx="193.8" cy="385.7" r="1.3"/>
<circle cx="197.2" cy="390.07" r="1.3"/>
<circle cx="200.6" cy="394.44" r="1.3"/>
<circle cx="204" cy="398.8" r="1.3"/>
<circle cx="207.4" cy="403.17" r="1.3"/>
<circle cx="210.8" cy="407.54" r="1.3"/>
<circle cx="214.2" cy="411.9" r="1.3"/>
<circle cx="217.6" cy="416.27" r="1.3"/>
<circle cx="221" cy="420.64" r="1.3"/>
<circle cx="224.4" cy="425" r="1.3"/>
<circle cx="227.8" cy="429.37" r="1.3"/>
<circle cx="231.2" cy="433.74" r="1.3"/>
<circle cx="234.6" cy="438.1" r="1.3"/>
<circle cx="238" cy="442.47" r="1.3"/>
<circle cx="241.4" cy="446.84" r="1.3"/>
<circle cx="244.8" cy="451.2" r="1.3"/>
<circle cx="248.2" cy="455.57" r="1.3"/>
<circle cx="159.8" cy="333.3" r="1.3"/>
<circle cx="166.6" cy="342.04" r="1.3"/>
<circle cx="170" cy="346.4" r="1.3"/>
<circle cx="176.8" cy="355.14" r="1.3"/>
<circle cx="180.2" cy="359.5" r="1.3"/>
<circle cx="183.6" cy="363.87" r="1.3"/>
<circle cx="187" cy="368.24" r="1.3"/>
<circle cx="190.4" cy="372.6" r="1.3"/>
<circle cx="193.8" cy="376.97" r="1.3"/>
<circle cx="197.2" cy="381.34" r="1.3"/>
<circle cx="200.6" cy="385.7" r="1.3"/>
<circle cx="204" cy="390.07" r="1.3"/>
<circle cx="207.4" cy="394.44" r="1.3"/>
<circle cx="210.8" cy="398.8" r="1.3"/>
<circle cx="214.2" cy="403.17" r="1.3"/>
<circle cx="217.6" cy="407.54" r="1.3"/>
<circle cx="221" cy="411.9" r="1.3"/>
<circle cx="224.4" cy="416.27" r="1.3"/>
<circle cx="227.8" cy="420.64" r="1.3"/>
<circle cx="234.6" cy="429.37" r="1.3"/>
<circle cx="238" cy="433.74" r="1.3"/>
<circle cx="241.4" cy="438.1" r="1.3"/>
<circle cx="248.2" cy="446.84" r="1.3"/>
<circle cx="258.4" cy="459.94" r="1.3"/>
<circle cx="268.6" cy="473.04" r="1.3"/>
<circle cx="173.4" cy="342.04" r="1.3"/>
<circle cx="180.2" cy="350.77" r="1.3"/>
<circle cx="183.6" cy="355.14" r="1.3"/>
<circle cx="187" cy="359.5" r="1.3"/>
<circle cx="190.4" cy="363.87" r="1.3"/>
<circle cx="193.8" cy="368.24" r="1.3"/>
<circle cx="197.2" cy="372.6" r="1.3"/>
<circle cx="204" cy="381.34" r="1.3"/>
<circle cx="207.4" cy="385.7" r="1.3"/>
<circle cx="210.8" cy="390.07" r="1.3"/>
<circle cx="214.2" cy="394.44" r="1.3"/>
<circle cx="217.6" cy="398.8" r="1.3"/>
<circle cx="221" cy="403.17" r="1.3"/>
<circle cx="224.4" cy="407.54" r="1.3"/>
<circle cx="227.8" cy="411.9" r="1.3"/>
<circle cx="231.2" cy="416.27" r="1.3"/>
<circle cx="234.6" cy="420.64" r="1.3"/>
<circle cx="238" cy="425" r="1.3"/>
<circle cx="241.4" cy="429.37" r="1.3"/>
<circle cx="248.2" cy="438.1" r="1.3"/>
<circle cx="251.6" cy="442.47" r="1.3"/>
<circle cx="255" cy="446.84" r="1.3"/>
<circle cx="268.6" cy="464.3" r="1.3"/>
<circle cx="170" cy="328.94" r="1.3"/>
<circle cx="176.8" cy="337.67" r="1.3"/>
<circle cx="183.6" cy="346.4" r="1.3"/>
<circle cx="187" cy="350.77" r="1.3"/>
<circle cx="190.4" cy="355.14" r="1.3"/>
<circle cx="197.2" cy="363.87" r="1.3"/>
<circle cx="204" cy="372.6" r="1.3"/>
<circle cx="210.8" cy="381.34" r="1.3"/>
<circle cx="214.2" cy="385.7" r="1.3"/>
<circle cx="217.6" cy="390.07" r="1.3"/>
<circle cx="221" cy="394.44" r="1.3"/>
<circle cx="224.4" cy="398.8" r="1.3"/>
<circle cx="227.8" cy="403.17" r="1.3"/>
<circle cx="231.2" cy="407.54" r="1.3"/>
<circle cx="234.6" cy="411.9" r="1.3"/>
<circle cx="238" cy="416.27" r="1.3"/>
<circle cx="241.4" cy="420.64" r="1.3"/>
<circle cx="244.8" cy="425" r="1.3"/>
<circle cx="248.2" cy="429.37" r="1.3"/>
<circle cx="255" cy="438.1" r="1.3"/>
<circle cx="268.6" cy="455.57" r="1.3"/>
<circle cx="173.4" cy="324.57" r="1.3"/>
<circle cx="180.2" cy="333.3" r="1.3"/>
<circle cx="183.6" cy="337.67" r="1.3"/>
<circle cx="197.2" cy="355.14" r="1.3"/>
<circle cx="200.6" cy="359.5" r="1.3"/>
<circle cx="204" cy="363.87" r="1.3"/>
<circle cx="207.4" cy="368.24" r="1.3"/>
<circle cx="210.8" cy="372.6" r="1.3"/>
<circle cx="214.2" cy="376.97" r="1.3"/>
<circle cx="221" cy="385.7" r="1.3"/>
<circle cx="227.8" cy="394.44" r="1.3"/>
<circle cx="231.2" cy="398.8" r="1.3"/>
<circle cx="234.6" cy="403.17" r="1.3"/>
<circle cx="238" cy="407.54" r="1.3"/>
<circle cx="241.4" cy="411.9" r="1.3"/>
<circle cx="248.2" cy="420.64" r="1.3"/>
<circle cx="251.6" cy="425" r="1.3"/>
<circle cx="258.4" cy="433.74" r="1.3"/>
<circle cx="265.2" cy="442.47" r="1.3"/>
<circle cx="268.6" cy="446.84" r="1.3"/>
<circle cx="272" cy="451.2" r="1.3"/>
<circle cx="190.4" cy="337.67" r="1.3"/>
<circle cx="193.8" cy="342.04" r="1.3"/>
<circle cx="197.2" cy="346.4" r="1.3"/>
<circle cx="200.6" cy="350.77" r="1.3"/>
<circle cx="210.8" cy="363.87" r="1.3"/>
<circle cx="217.6" cy="372.6" r="1.3"/>
<circle cx="221" cy="376.97" r="1.3"/>
<circle cx="227.8" cy="385.7" r="1.3"/>
<circle cx="231.2" cy="390.07" r="1.3"/>
<circle cx="234.6" cy="394.44" r="1.3"/>
<circle cx="238" cy="398.8" r="1.3"/>
<circle cx="241.4" cy="403.17" r="1.3"/>
<circle cx="244.8" cy="407.54" r="1.3"/>
<circle cx="251.6" cy="416.27" r="1.3"/>
<circle cx="255" cy="420.64" r="1.3"/>
<circle cx="258.4" cy="425" r="1.3"/>
<circle cx="268.6" cy="438.1" r="1.3"/>
<circle cx="272" cy="442.47" r="1.3"/>
<circle cx="275.4" cy="446.84" r="1.3"/>
<circle cx="187" cy="324.57" r="1.3"/>
<circle cx="197.2" cy="337.67" r="1.3"/>
<circle cx="214.2" cy="359.5" r="1.3"/>
<circle cx="224.4" cy="372.6" r="1.3"/>
<circle cx="231.2" cy="381.34" r="1.3"/>
<circle cx="234.6" cy="385.7" r="1.3"/>
<circle cx="238" cy="390.07" r="1.3"/>
<circle cx="241.4" cy="394.44" r="1.3"/>
<circle cx="248.2" cy="403.17" r="1.3"/>
<circle cx="251.6" cy="407.54" r="1.3"/>
<circle cx="268.6" cy="429.37" r="1.3"/>
<circle cx="275.4" cy="438.1" r="1.3"/>
<circle cx="193.8" cy="324.57" r="1.3"/>
<circle cx="210.8" cy="346.4" r="1.3"/>
<circle cx="221" cy="359.5" r="1.3"/>
<circle cx="224.4" cy="363.87" r="1.3"/>
<circle cx="227.8" cy="368.24" r="1.3"/>
<circle cx="234.6" cy="376.97" r="1.3"/>
<circle cx="238" cy="381.34" r="1.3"/>
<circle cx="251.6" cy="398.8" r="1.3"/>
<circle cx="255" cy="403.17" r="1.3"/>
<circle cx="258.4" cy="407.54" r="1.3"/>
<circle cx="261.8" cy="411.9" r="1.3"/>
<circle cx="265.2" cy="416.27" r="1.3"/>
<circle cx="275.4" cy="429.37" r="1.3"/>
<circle cx="204" cy="328.94" r="1.3"/>
<circle cx="210.8" cy="337.67" r="1.3"/>
<circle cx="227.8" cy="359.5" r="1.3"/>
<circle cx="231.2" cy="363.87" r="1.3"/>
<circle cx="234.6" cy="368.24" r="1.3"/>
<circle cx="238" cy="372.6" r="1.3"/>
<circle cx="241.4" cy="376.97" r="1.3"/>
<circle cx="244.8" cy="381.34" r="1.3"/>
<circle cx="251.6" cy="390.07" r="1.3"/>
<circle cx="258.4" cy="398.8" r="1.3"/>
<circle cx="261.8" cy="403.17" r="1.3"/>
<circle cx="265.2" cy="407.54" r="1.3"/>
<circle cx="268.6" cy="411.9" r="1.3"/>
<circle cx="272" cy="416.27" r="1.3"/>
<circle cx="282.2" cy="429.37" r="1.3"/>
<circle cx="285.6" cy="433.74" r="1.3"/>
<circle cx="292.4" cy="442.47" r="1.3"/>
<circle cx="207.4" cy="324.57" r="1.3"/>
<circle cx="217.6" cy="337.67" r="1.3"/>
<circle cx="221" cy="342.04" r="1.3"/>
<circle cx="224.4" cy="346.4" r="1.3"/>
<circle cx="227.8" cy="350.77" r="1.3"/>
<circle cx="234.6" cy="359.5" r="1.3"/>
<circle cx="238" cy="363.87" r="1.3"/>
<circle cx="241.4" cy="368.24" r="1.3"/>
<circle cx="251.6" cy="381.34" r="1.3"/>
<circle cx="258.4" cy="390.07" r="1.3"/>
<circle cx="261.8" cy="394.44" r="1.3"/>
<circle cx="265.2" cy="398.8" r="1.3"/>
<circle cx="278.8" cy="416.27" r="1.3"/>
<circle cx="221" cy="333.3" r="1.3"/>
<circle cx="224.4" cy="337.67" r="1.3"/>
<circle cx="231.2" cy="346.4" r="1.3"/>
<circle cx="238" cy="355.14" r="1.3"/>
<circle cx="241.4" cy="359.5" r="1.3"/>
<circle cx="244.8" cy="363.87" r="1.3"/>
<circle cx="251.6" cy="372.6" r="1.3"/>
<circle cx="255" cy="376.97" r="1.3"/>
<circle cx="258.4" cy="381.34" r="1.3"/>
<circle cx="268.6" cy="394.44" r="1.3"/>
<circle cx="221" cy="324.57" r="1.3"/>
<circle cx="224.4" cy="328.94" r="1.3"/>
<circle cx="231.2" cy="337.67" r="1.3"/>
<circle cx="248.2" cy="359.5" r="1.3"/>
<circle cx="255" cy="368.24" r="1.3"/>
<circle cx="261.8" cy="376.97" r="1.3"/>
<circle cx="272" cy="390.07" r="1.3"/>
<circle cx="278.8" cy="398.8" r="1.3"/>
<circle cx="282.2" cy="403.17" r="1.3"/>
<circle cx="285.6" cy="407.54" r="1.3"/>
<circle cx="289" cy="411.9" r="1.3"/>
<circle cx="292.4" cy="416.27" r="1.3"/>
<circle cx="227.8" cy="324.57" r="1.3"/>
<circle cx="244.8" cy="346.4" r="1.3"/>
<circle cx="248.2" cy="350.77" r="1.3"/>
<circle cx="255" cy="359.5" r="1.3"/>
<circle cx="258.4" cy="363.87" r="1.3"/>
<circle cx="265.2" cy="372.6" r="1.3"/>
<circle cx="278.8" cy="390.07" r="1.3"/>
<circle cx="282.2" cy="394.44" r="1.3"/>
<circle cx="285.6" cy="398.8" r="1.3"/>
<circle cx="295.8" cy="411.9" r="1.3"/>
<circle cx="234.6" cy="324.57" r="1.3"/>
<circle cx="251.6" cy="346.4" r="1.3"/>
<circle cx="255" cy="350.77" r="1.3"/>
<circle cx="261.8" cy="359.5" r="1.3"/>
<circle cx="268.6" cy="368.24" r="1.3"/>
<circle cx="278.8" cy="381.34" r="1.3"/>
<circle cx="282.2" cy="385.7" r="1.3"/>
<circle cx="295.8" cy="403.17" r="1.3"/>
<circle cx="272" cy="363.87" r="1.3"/>
<circle cx="282.2" cy="376.97" r="1.3"/>
<circle cx="292.4" cy="390.07" r="1.3"/>
<circle cx="295.8" cy="394.44" r="1.3"/>
<circle cx="299.2" cy="398.8" r="1.3"/>
<circle cx="309.4" cy="411.9" r="1.3"/>
<circle cx="312.8" cy="416.27" r="1.3"/>
<circle cx="275.4" cy="359.5" r="1.3"/>
<circle cx="282.2" cy="368.24" r="1.3"/>
<circle cx="285.6" cy="372.6" r="1.3"/>
<circle cx="289" cy="376.97" r="1.3"/>
<circle cx="299.2" cy="390.07" r="1.3"/>
<circle cx="268.6" cy="342.04" r="1.3"/>
<circle cx="272" cy="346.4" r="1.3"/>
<circle cx="299.2" cy="381.34" r="1.3"/>
<circle cx="309.4" cy="385.7" r="1.3"/>
<circle cx="312.8" cy="390.07" r="1.3"/>
<circle cx="316.2" cy="394.44" r="1.3"/>
<circle cx="268.6" cy="324.57" r="1.3"/>
<circle cx="285.6" cy="346.4" r="1.3"/>
<circle cx="289" cy="350.77" r="1.3"/>
<circle cx="285.6" cy="328.94" r="1.3"/>
<circle cx="306" cy="355.14" r="1.3"/>
<circle cx="326.4" cy="346.4" r="1.3"/>
<circle cx="343.4" cy="359.5" r="1.3"/>
</g>
<rect x="420.5" y="315.2" width="300" height="204.7" fill="none" stroke="#3a3a3a" stroke-width="1"/>
<line x1="425.8" x2="425.8" y1="519.9" y2="524.2" stroke="#3a3a3a" stroke-width="1"/>
<text x="425.8" y="539.2" text-anchor="middle" class="tk">0</text>
<line x1="486.1" x2="486.1" y1="519.9" y2="524.2" stroke="#3a3a3a" stroke-width="1"/>
<text x="486.1" y="539.2" text-anchor="middle" class="tk">10</text>
<line x1="546.4" x2="546.4" y1="519.9" y2="524.2" stroke="#3a3a3a" stroke-width="1"/>
<text x="546.4" y="539.2" text-anchor="middle" class="tk">20</text>
<line x1="606.7" x2="606.7" y1="519.9" y2="524.2" stroke="#3a3a3a" stroke-width="1"/>
<text x="606.7" y="539.2" text-anchor="middle" class="tk">30</text>
<line x1="667" x2="667" y1="519.9" y2="524.2" stroke="#3a3a3a" stroke-width="1"/>
<text x="667" y="539.2" text-anchor="middle" class="tk">40</text>
<line x1="416.2" x2="420.5" y1="517.5" y2="517.5" stroke="#3a3a3a" stroke-width="1"/>
<text x="412.1" y="521.8" text-anchor="end" class="tk">0</text>
<line x1="416.2" x2="420.5" y1="467.5" y2="467.5" stroke="#3a3a3a" stroke-width="1"/>
<text x="412.1" y="471.8" text-anchor="end" class="tk">10</text>
<line x1="416.2" x2="420.5" y1="417.5" y2="417.5" stroke="#3a3a3a" stroke-width="1"/>
<text x="412.1" y="421.8" text-anchor="end" class="tk">20</text>
<line x1="416.2" x2="420.5" y1="367.5" y2="367.5" stroke="#3a3a3a" stroke-width="1"/>
<text x="412.1" y="371.8" text-anchor="end" class="tk">30</text>
<line x1="416.2" x2="420.5" y1="317.5" y2="317.5" stroke="#3a3a3a" stroke-width="1"/>
<text x="412.1" y="321.8" text-anchor="end" class="tk">40</text>
<g fill="#fff" stroke="#9c1f52" stroke-width="1.05">
<circle cx="431.83" cy="512.5" r="1.3"/>
<circle cx="431.83" cy="487.5" r="1.3"/>
<circle cx="431.83" cy="462.5" r="1.3"/>
<circle cx="437.86" cy="492.5" r="1.3"/>
<circle cx="443.89" cy="512.5" r="1.3"/>
<circle cx="443.89" cy="507.5" r="1.3"/>
<circle cx="443.89" cy="502.5" r="1.3"/>
<circle cx="443.89" cy="497.5" r="1.3"/>
<circle cx="443.89" cy="487.5" r="1.3"/>
<circle cx="443.89" cy="482.5" r="1.3"/>
<circle cx="449.92" cy="507.5" r="1.3"/>
<circle cx="449.92" cy="482.5" r="1.3"/>
<circle cx="449.92" cy="467.5" r="1.3"/>
<circle cx="449.92" cy="462.5" r="1.3"/>
<circle cx="449.92" cy="457.5" r="1.3"/>
<circle cx="449.92" cy="452.5" r="1.3"/>
<circle cx="455.95" cy="512.5" r="1.3"/>
<circle cx="455.95" cy="502.5" r="1.3"/>
<circle cx="455.95" cy="497.5" r="1.3"/>
<circle cx="455.95" cy="487.5" r="1.3"/>
<circle cx="455.95" cy="452.5" r="1.3"/>
<circle cx="455.95" cy="377.5" r="1.3"/>
<circle cx="461.98" cy="482.5" r="1.3"/>
<circle cx="461.98" cy="477.5" r="1.3"/>
<circle cx="461.98" cy="472.5" r="1.3"/>
<circle cx="461.98" cy="467.5" r="1.3"/>
<circle cx="461.98" cy="432.5" r="1.3"/>
<circle cx="468.01" cy="497.5" r="1.3"/>
<circle cx="468.01" cy="492.5" r="1.3"/>
<circle cx="468.01" cy="487.5" r="1.3"/>
<circle cx="468.01" cy="482.5" r="1.3"/>
<circle cx="468.01" cy="477.5" r="1.3"/>
<circle cx="468.01" cy="472.5" r="1.3"/>
<circle cx="468.01" cy="467.5" r="1.3"/>
<circle cx="468.01" cy="462.5" r="1.3"/>
<circle cx="468.01" cy="457.5" r="1.3"/>
<circle cx="468.01" cy="407.5" r="1.3"/>
<circle cx="474.04" cy="507.5" r="1.3"/>
<circle cx="474.04" cy="492.5" r="1.3"/>
<circle cx="474.04" cy="477.5" r="1.3"/>
<circle cx="474.04" cy="472.5" r="1.3"/>
<circle cx="474.04" cy="467.5" r="1.3"/>
<circle cx="474.04" cy="462.5" r="1.3"/>
<circle cx="474.04" cy="452.5" r="1.3"/>
<circle cx="474.04" cy="447.5" r="1.3"/>
<circle cx="474.04" cy="442.5" r="1.3"/>
<circle cx="474.04" cy="437.5" r="1.3"/>
<circle cx="474.04" cy="427.5" r="1.3"/>
<circle cx="474.04" cy="422.5" r="1.3"/>
<circle cx="474.04" cy="417.5" r="1.3"/>
<circle cx="480.07" cy="512.5" r="1.3"/>
<circle cx="480.07" cy="502.5" r="1.3"/>
<circle cx="480.07" cy="492.5" r="1.3"/>
<circle cx="480.07" cy="482.5" r="1.3"/>
<circle cx="480.07" cy="477.5" r="1.3"/>
<circle cx="480.07" cy="472.5" r="1.3"/>
<circle cx="480.07" cy="467.5" r="1.3"/>
<circle cx="480.07" cy="457.5" r="1.3"/>
<circle cx="480.07" cy="452.5" r="1.3"/>
<circle cx="480.07" cy="442.5" r="1.3"/>
<circle cx="480.07" cy="432.5" r="1.3"/>
<circle cx="480.07" cy="427.5" r="1.3"/>
<circle cx="480.07" cy="422.5" r="1.3"/>
<circle cx="480.07" cy="377.5" r="1.3"/>
<circle cx="486.1" cy="497.5" r="1.3"/>
<circle cx="486.1" cy="492.5" r="1.3"/>
<circle cx="486.1" cy="487.5" r="1.3"/>
<circle cx="486.1" cy="482.5" r="1.3"/>
<circle cx="486.1" cy="472.5" r="1.3"/>
<circle cx="486.1" cy="467.5" r="1.3"/>
<circle cx="486.1" cy="462.5" r="1.3"/>
<circle cx="486.1" cy="457.5" r="1.3"/>
<circle cx="486.1" cy="437.5" r="1.3"/>
<circle cx="486.1" cy="422.5" r="1.3"/>
<circle cx="486.1" cy="412.5" r="1.3"/>
<circle cx="486.1" cy="392.5" r="1.3"/>
<circle cx="492.13" cy="492.5" r="1.3"/>
<circle cx="492.13" cy="477.5" r="1.3"/>
<circle cx="492.13" cy="472.5" r="1.3"/>
<circle cx="492.13" cy="462.5" r="1.3"/>
<circle cx="492.13" cy="447.5" r="1.3"/>
<circle cx="492.13" cy="442.5" r="1.3"/>
<circle cx="492.13" cy="437.5" r="1.3"/>
<circle cx="492.13" cy="432.5" r="1.3"/>
<circle cx="492.13" cy="427.5" r="1.3"/>
<circle cx="492.13" cy="417.5" r="1.3"/>
<circle cx="492.13" cy="407.5" r="1.3"/>
<circle cx="492.13" cy="402.5" r="1.3"/>
<circle cx="492.13" cy="392.5" r="1.3"/>
<circle cx="492.13" cy="382.5" r="1.3"/>
<circle cx="498.16" cy="492.5" r="1.3"/>
<circle cx="498.16" cy="487.5" r="1.3"/>
<circle cx="498.16" cy="477.5" r="1.3"/>
<circle cx="498.16" cy="472.5" r="1.3"/>
<circle cx="498.16" cy="467.5" r="1.3"/>
<circle cx="498.16" cy="462.5" r="1.3"/>
<circle cx="498.16" cy="457.5" r="1.3"/>
<circle cx="498.16" cy="452.5" r="1.3"/>
<circle cx="498.16" cy="447.5" r="1.3"/>
<circle cx="498.16" cy="442.5" r="1.3"/>
<circle cx="498.16" cy="437.5" r="1.3"/>
<circle cx="498.16" cy="432.5" r="1.3"/>
<circle cx="498.16" cy="427.5" r="1.3"/>
<circle cx="498.16" cy="422.5" r="1.3"/>
<circle cx="498.16" cy="417.5" r="1.3"/>
<circle cx="498.16" cy="412.5" r="1.3"/>
<circle cx="498.16" cy="402.5" r="1.3"/>
<circle cx="498.16" cy="397.5" r="1.3"/>
<circle cx="498.16" cy="377.5" r="1.3"/>
<circle cx="498.16" cy="342.5" r="1.3"/>
<circle cx="498.16" cy="337.5" r="1.3"/>
<circle cx="504.19" cy="497.5" r="1.3"/>
<circle cx="504.19" cy="482.5" r="1.3"/>
<circle cx="504.19" cy="477.5" r="1.3"/>
<circle cx="504.19" cy="472.5" r="1.3"/>
<circle cx="504.19" cy="467.5" r="1.3"/>
<circle cx="504.19" cy="462.5" r="1.3"/>
<circle cx="504.19" cy="457.5" r="1.3"/>
<circle cx="504.19" cy="452.5" r="1.3"/>
<circle cx="504.19" cy="447.5" r="1.3"/>
<circle cx="504.19" cy="442.5" r="1.3"/>
<circle cx="504.19" cy="432.5" r="1.3"/>
<circle cx="504.19" cy="427.5" r="1.3"/>
<circle cx="504.19" cy="422.5" r="1.3"/>
<circle cx="504.19" cy="417.5" r="1.3"/>
<circle cx="504.19" cy="407.5" r="1.3"/>
<circle cx="504.19" cy="402.5" r="1.3"/>
<circle cx="504.19" cy="397.5" r="1.3"/>
<circle cx="504.19" cy="382.5" r="1.3"/>
<circle cx="504.19" cy="372.5" r="1.3"/>
<circle cx="504.19" cy="362.5" r="1.3"/>
<circle cx="504.19" cy="327.5" r="1.3"/>
<circle cx="510.22" cy="487.5" r="1.3"/>
<circle cx="510.22" cy="482.5" r="1.3"/>
<circle cx="510.22" cy="477.5" r="1.3"/>
<circle cx="510.22" cy="472.5" r="1.3"/>
<circle cx="510.22" cy="462.5" r="1.3"/>
<circle cx="510.22" cy="457.5" r="1.3"/>
<circle cx="510.22" cy="452.5" r="1.3"/>
<circle cx="510.22" cy="447.5" r="1.3"/>
<circle cx="510.22" cy="442.5" r="1.3"/>
<circle cx="510.22" cy="437.5" r="1.3"/>
<circle cx="510.22" cy="432.5" r="1.3"/>
<circle cx="510.22" cy="427.5" r="1.3"/>
<circle cx="510.22" cy="422.5" r="1.3"/>
<circle cx="510.22" cy="417.5" r="1.3"/>
<circle cx="510.22" cy="412.5" r="1.3"/>
<circle cx="510.22" cy="407.5" r="1.3"/>
<circle cx="510.22" cy="402.5" r="1.3"/>
<circle cx="510.22" cy="397.5" r="1.3"/>
<circle cx="510.22" cy="357.5" r="1.3"/>
<circle cx="510.22" cy="347.5" r="1.3"/>
<circle cx="516.25" cy="492.5" r="1.3"/>
<circle cx="516.25" cy="487.5" r="1.3"/>
<circle cx="516.25" cy="482.5" r="1.3"/>
<circle cx="516.25" cy="472.5" r="1.3"/>
<circle cx="516.25" cy="467.5" r="1.3"/>
<circle cx="516.25" cy="462.5" r="1.3"/>
<circle cx="516.25" cy="457.5" r="1.3"/>
<circle cx="516.25" cy="452.5" r="1.3"/>
<circle cx="516.25" cy="447.5" r="1.3"/>
<circle cx="516.25" cy="442.5" r="1.3"/>
<circle cx="516.25" cy="437.5" r="1.3"/>
<circle cx="516.25" cy="432.5" r="1.3"/>
<circle cx="516.25" cy="427.5" r="1.3"/>
<circle cx="516.25" cy="422.5" r="1.3"/>
<circle cx="516.25" cy="417.5" r="1.3"/>
<circle cx="516.25" cy="412.5" r="1.3"/>
<circle cx="516.25" cy="407.5" r="1.3"/>
<circle cx="516.25" cy="402.5" r="1.3"/>
<circle cx="516.25" cy="397.5" r="1.3"/>
<circle cx="516.25" cy="377.5" r="1.3"/>
<circle cx="516.25" cy="367.5" r="1.3"/>
<circle cx="516.25" cy="352.5" r="1.3"/>
<circle cx="522.28" cy="482.5" r="1.3"/>
<circle cx="522.28" cy="472.5" r="1.3"/>
<circle cx="522.28" cy="467.5" r="1.3"/>
<circle cx="522.28" cy="462.5" r="1.3"/>
<circle cx="522.28" cy="457.5" r="1.3"/>
<circle cx="522.28" cy="452.5" r="1.3"/>
<circle cx="522.28" cy="447.5" r="1.3"/>
<circle cx="522.28" cy="442.5" r="1.3"/>
<circle cx="522.28" cy="437.5" r="1.3"/>
<circle cx="522.28" cy="432.5" r="1.3"/>
<circle cx="522.28" cy="427.5" r="1.3"/>
<circle cx="522.28" cy="422.5" r="1.3"/>
<circle cx="522.28" cy="417.5" r="1.3"/>
<circle cx="522.28" cy="412.5" r="1.3"/>
<circle cx="522.28" cy="407.5" r="1.3"/>
<circle cx="522.28" cy="402.5" r="1.3"/>
<circle cx="522.28" cy="397.5" r="1.3"/>
<circle cx="522.28" cy="392.5" r="1.3"/>
<circle cx="522.28" cy="382.5" r="1.3"/>
<circle cx="522.28" cy="377.5" r="1.3"/>
<circle cx="522.28" cy="372.5" r="1.3"/>
<circle cx="522.28" cy="367.5" r="1.3"/>
<circle cx="528.31" cy="487.5" r="1.3"/>
<circle cx="528.31" cy="482.5" r="1.3"/>
<circle cx="528.31" cy="472.5" r="1.3"/>
<circle cx="528.31" cy="467.5" r="1.3"/>
<circle cx="528.31" cy="462.5" r="1.3"/>
<circle cx="528.31" cy="457.5" r="1.3"/>
<circle cx="528.31" cy="452.5" r="1.3"/>
<circle cx="528.31" cy="447.5" r="1.3"/>
<circle cx="528.31" cy="442.5" r="1.3"/>
<circle cx="528.31" cy="437.5" r="1.3"/>
<circle cx="528.31" cy="432.5" r="1.3"/>
<circle cx="528.31" cy="427.5" r="1.3"/>
<circle cx="528.31" cy="422.5" r="1.3"/>
<circle cx="528.31" cy="417.5" r="1.3"/>
<circle cx="528.31" cy="412.5" r="1.3"/>
<circle cx="528.31" cy="407.5" r="1.3"/>
<circle cx="528.31" cy="402.5" r="1.3"/>
<circle cx="528.31" cy="397.5" r="1.3"/>
<circle cx="528.31" cy="392.5" r="1.3"/>
<circle cx="528.31" cy="387.5" r="1.3"/>
<circle cx="528.31" cy="382.5" r="1.3"/>
<circle cx="528.31" cy="372.5" r="1.3"/>
<circle cx="528.31" cy="367.5" r="1.3"/>
<circle cx="528.31" cy="362.5" r="1.3"/>
<circle cx="528.31" cy="352.5" r="1.3"/>
<circle cx="528.31" cy="347.5" r="1.3"/>
<circle cx="528.31" cy="332.5" r="1.3"/>
<circle cx="534.34" cy="497.5" r="1.3"/>
<circle cx="534.34" cy="487.5" r="1.3"/>
<circle cx="534.34" cy="482.5" r="1.3"/>
<circle cx="534.34" cy="477.5" r="1.3"/>
<circle cx="534.34" cy="472.5" r="1.3"/>
<circle cx="534.34" cy="467.5" r="1.3"/>
<circle cx="534.34" cy="462.5" r="1.3"/>
<circle cx="534.34" cy="457.5" r="1.3"/>
<circle cx="534.34" cy="452.5" r="1.3"/>
<circle cx="534.34" cy="447.5" r="1.3"/>
<circle cx="534.34" cy="442.5" r="1.3"/>
<circle cx="534.34" cy="437.5" r="1.3"/>
<circle cx="534.34" cy="432.5" r="1.3"/>
<circle cx="534.34" cy="427.5" r="1.3"/>
<circle cx="534.34" cy="422.5" r="1.3"/>
<circle cx="534.34" cy="417.5" r="1.3"/>
<circle cx="534.34" cy="412.5" r="1.3"/>
<circle cx="534.34" cy="407.5" r="1.3"/>
<circle cx="534.34" cy="402.5" r="1.3"/>
<circle cx="534.34" cy="397.5" r="1.3"/>
<circle cx="534.34" cy="392.5" r="1.3"/>
<circle cx="534.34" cy="387.5" r="1.3"/>
<circle cx="534.34" cy="382.5" r="1.3"/>
<circle cx="534.34" cy="377.5" r="1.3"/>
<circle cx="534.34" cy="357.5" r="1.3"/>
<circle cx="534.34" cy="342.5" r="1.3"/>
<circle cx="540.37" cy="497.5" r="1.3"/>
<circle cx="540.37" cy="492.5" r="1.3"/>
<circle cx="540.37" cy="477.5" r="1.3"/>
<circle cx="540.37" cy="472.5" r="1.3"/>
<circle cx="540.37" cy="467.5" r="1.3"/>
<circle cx="540.37" cy="462.5" r="1.3"/>
<circle cx="540.37" cy="457.5" r="1.3"/>
<circle cx="540.37" cy="452.5" r="1.3"/>
<circle cx="540.37" cy="447.5" r="1.3"/>
<circle cx="540.37" cy="442.5" r="1.3"/>
<circle cx="540.37" cy="437.5" r="1.3"/>
<circle cx="540.37" cy="432.5" r="1.3"/>
<circle cx="540.37" cy="427.5" r="1.3"/>
<circle cx="540.37" cy="417.5" r="1.3"/>
<circle cx="540.37" cy="412.5" r="1.3"/>
<circle cx="540.37" cy="407.5" r="1.3"/>
<circle cx="540.37" cy="402.5" r="1.3"/>
<circle cx="540.37" cy="397.5" r="1.3"/>
<circle cx="540.37" cy="392.5" r="1.3"/>
<circle cx="540.37" cy="387.5" r="1.3"/>
<circle cx="540.37" cy="382.5" r="1.3"/>
<circle cx="540.37" cy="377.5" r="1.3"/>
<circle cx="540.37" cy="372.5" r="1.3"/>
<circle cx="540.37" cy="367.5" r="1.3"/>
<circle cx="540.37" cy="362.5" r="1.3"/>
<circle cx="540.37" cy="357.5" r="1.3"/>
<circle cx="540.37" cy="332.5" r="1.3"/>
<circle cx="546.4" cy="492.5" r="1.3"/>
<circle cx="546.4" cy="487.5" r="1.3"/>
<circle cx="546.4" cy="477.5" r="1.3"/>
<circle cx="546.4" cy="467.5" r="1.3"/>
<circle cx="546.4" cy="462.5" r="1.3"/>
<circle cx="546.4" cy="452.5" r="1.3"/>
<circle cx="546.4" cy="447.5" r="1.3"/>
<circle cx="546.4" cy="442.5" r="1.3"/>
<circle cx="546.4" cy="437.5" r="1.3"/>
<circle cx="546.4" cy="432.5" r="1.3"/>
<circle cx="546.4" cy="427.5" r="1.3"/>
<circle cx="546.4" cy="422.5" r="1.3"/>
<circle cx="546.4" cy="417.5" r="1.3"/>
<circle cx="546.4" cy="412.5" r="1.3"/>
<circle cx="546.4" cy="407.5" r="1.3"/>
<circle cx="546.4" cy="402.5" r="1.3"/>
<circle cx="546.4" cy="397.5" r="1.3"/>
<circle cx="546.4" cy="392.5" r="1.3"/>
<circle cx="546.4" cy="387.5" r="1.3"/>
<circle cx="546.4" cy="382.5" r="1.3"/>
<circle cx="546.4" cy="377.5" r="1.3"/>
<circle cx="546.4" cy="372.5" r="1.3"/>
<circle cx="546.4" cy="367.5" r="1.3"/>
<circle cx="546.4" cy="347.5" r="1.3"/>
<circle cx="546.4" cy="342.5" r="1.3"/>
<circle cx="546.4" cy="337.5" r="1.3"/>
<circle cx="546.4" cy="332.5" r="1.3"/>
<circle cx="552.43" cy="497.5" r="1.3"/>
<circle cx="552.43" cy="487.5" r="1.3"/>
<circle cx="552.43" cy="482.5" r="1.3"/>
<circle cx="552.43" cy="472.5" r="1.3"/>
<circle cx="552.43" cy="467.5" r="1.3"/>
<circle cx="552.43" cy="457.5" r="1.3"/>
<circle cx="552.43" cy="447.5" r="1.3"/>
<circle cx="552.43" cy="442.5" r="1.3"/>
<circle cx="552.43" cy="437.5" r="1.3"/>
<circle cx="552.43" cy="432.5" r="1.3"/>
<circle cx="552.43" cy="427.5" r="1.3"/>
<circle cx="552.43" cy="422.5" r="1.3"/>
<circle cx="552.43" cy="417.5" r="1.3"/>
<circle cx="552.43" cy="412.5" r="1.3"/>
<circle cx="552.43" cy="402.5" r="1.3"/>
<circle cx="552.43" cy="397.5" r="1.3"/>
<circle cx="552.43" cy="392.5" r="1.3"/>
<circle cx="552.43" cy="387.5" r="1.3"/>
<circle cx="552.43" cy="382.5" r="1.3"/>
<circle cx="552.43" cy="377.5" r="1.3"/>
<circle cx="552.43" cy="367.5" r="1.3"/>
<circle cx="552.43" cy="352.5" r="1.3"/>
<circle cx="552.43" cy="342.5" r="1.3"/>
<circle cx="558.46" cy="492.5" r="1.3"/>
<circle cx="558.46" cy="482.5" r="1.3"/>
<circle cx="558.46" cy="477.5" r="1.3"/>
<circle cx="558.46" cy="467.5" r="1.3"/>
<circle cx="558.46" cy="462.5" r="1.3"/>
<circle cx="558.46" cy="457.5" r="1.3"/>
<circle cx="558.46" cy="452.5" r="1.3"/>
<circle cx="558.46" cy="447.5" r="1.3"/>
<circle cx="558.46" cy="442.5" r="1.3"/>
<circle cx="558.46" cy="437.5" r="1.3"/>
<circle cx="558.46" cy="432.5" r="1.3"/>
<circle cx="558.46" cy="427.5" r="1.3"/>
<circle cx="558.46" cy="422.5" r="1.3"/>
<circle cx="558.46" cy="417.5" r="1.3"/>
<circle cx="558.46" cy="412.5" r="1.3"/>
<circle cx="558.46" cy="407.5" r="1.3"/>
<circle cx="558.46" cy="402.5" r="1.3"/>
<circle cx="558.46" cy="397.5" r="1.3"/>
<circle cx="558.46" cy="392.5" r="1.3"/>
<circle cx="558.46" cy="387.5" r="1.3"/>
<circle cx="558.46" cy="382.5" r="1.3"/>
<circle cx="558.46" cy="377.5" r="1.3"/>
<circle cx="558.46" cy="372.5" r="1.3"/>
<circle cx="558.46" cy="367.5" r="1.3"/>
<circle cx="558.46" cy="362.5" r="1.3"/>
<circle cx="558.46" cy="357.5" r="1.3"/>
<circle cx="558.46" cy="352.5" r="1.3"/>
<circle cx="558.46" cy="347.5" r="1.3"/>
<circle cx="564.49" cy="482.5" r="1.3"/>
<circle cx="564.49" cy="472.5" r="1.3"/>
<circle cx="564.49" cy="467.5" r="1.3"/>
<circle cx="564.49" cy="457.5" r="1.3"/>
<circle cx="564.49" cy="452.5" r="1.3"/>
<circle cx="564.49" cy="447.5" r="1.3"/>
<circle cx="564.49" cy="442.5" r="1.3"/>
<circle cx="564.49" cy="437.5" r="1.3"/>
<circle cx="564.49" cy="432.5" r="1.3"/>
<circle cx="564.49" cy="427.5" r="1.3"/>
<circle cx="564.49" cy="422.5" r="1.3"/>
<circle cx="564.49" cy="417.5" r="1.3"/>
<circle cx="564.49" cy="412.5" r="1.3"/>
<circle cx="564.49" cy="407.5" r="1.3"/>
<circle cx="564.49" cy="402.5" r="1.3"/>
<circle cx="564.49" cy="397.5" r="1.3"/>
<circle cx="564.49" cy="392.5" r="1.3"/>
<circle cx="564.49" cy="387.5" r="1.3"/>
<circle cx="564.49" cy="382.5" r="1.3"/>
<circle cx="564.49" cy="372.5" r="1.3"/>
<circle cx="564.49" cy="367.5" r="1.3"/>
<circle cx="564.49" cy="362.5" r="1.3"/>
<circle cx="564.49" cy="352.5" r="1.3"/>
<circle cx="564.49" cy="337.5" r="1.3"/>
<circle cx="564.49" cy="322.5" r="1.3"/>
<circle cx="570.52" cy="467.5" r="1.3"/>
<circle cx="570.52" cy="457.5" r="1.3"/>
<circle cx="570.52" cy="452.5" r="1.3"/>
<circle cx="570.52" cy="447.5" r="1.3"/>
<circle cx="570.52" cy="442.5" r="1.3"/>
<circle cx="570.52" cy="437.5" r="1.3"/>
<circle cx="570.52" cy="432.5" r="1.3"/>
<circle cx="570.52" cy="422.5" r="1.3"/>
<circle cx="570.52" cy="417.5" r="1.3"/>
<circle cx="570.52" cy="412.5" r="1.3"/>
<circle cx="570.52" cy="407.5" r="1.3"/>
<circle cx="570.52" cy="402.5" r="1.3"/>
<circle cx="570.52" cy="397.5" r="1.3"/>
<circle cx="570.52" cy="392.5" r="1.3"/>
<circle cx="570.52" cy="387.5" r="1.3"/>
<circle cx="570.52" cy="382.5" r="1.3"/>
<circle cx="570.52" cy="377.5" r="1.3"/>
<circle cx="570.52" cy="372.5" r="1.3"/>
<circle cx="570.52" cy="367.5" r="1.3"/>
<circle cx="570.52" cy="357.5" r="1.3"/>
<circle cx="570.52" cy="352.5" r="1.3"/>
<circle cx="570.52" cy="347.5" r="1.3"/>
<circle cx="570.52" cy="327.5" r="1.3"/>
<circle cx="576.55" cy="477.5" r="1.3"/>
<circle cx="576.55" cy="467.5" r="1.3"/>
<circle cx="576.55" cy="457.5" r="1.3"/>
<circle cx="576.55" cy="452.5" r="1.3"/>
<circle cx="576.55" cy="447.5" r="1.3"/>
<circle cx="576.55" cy="437.5" r="1.3"/>
<circle cx="576.55" cy="427.5" r="1.3"/>
<circle cx="576.55" cy="417.5" r="1.3"/>
<circle cx="576.55" cy="412.5" r="1.3"/>
<circle cx="576.55" cy="407.5" r="1.3"/>
<circle cx="576.55" cy="402.5" r="1.3"/>
<circle cx="576.55" cy="397.5" r="1.3"/>
<circle cx="576.55" cy="392.5" r="1.3"/>
<circle cx="576.55" cy="387.5" r="1.3"/>
<circle cx="576.55" cy="382.5" r="1.3"/>
<circle cx="576.55" cy="377.5" r="1.3"/>
<circle cx="576.55" cy="372.5" r="1.3"/>
<circle cx="576.55" cy="367.5" r="1.3"/>
<circle cx="576.55" cy="362.5" r="1.3"/>
<circle cx="576.55" cy="352.5" r="1.3"/>
<circle cx="576.55" cy="332.5" r="1.3"/>
<circle cx="582.58" cy="477.5" r="1.3"/>
<circle cx="582.58" cy="467.5" r="1.3"/>
<circle cx="582.58" cy="462.5" r="1.3"/>
<circle cx="582.58" cy="442.5" r="1.3"/>
<circle cx="582.58" cy="437.5" r="1.3"/>
<circle cx="582.58" cy="432.5" r="1.3"/>
<circle cx="582.58" cy="427.5" r="1.3"/>
<circle cx="582.58" cy="422.5" r="1.3"/>
<circle cx="582.58" cy="417.5" r="1.3"/>
<circle cx="582.58" cy="407.5" r="1.3"/>
<circle cx="582.58" cy="397.5" r="1.3"/>
<circle cx="582.58" cy="392.5" r="1.3"/>
<circle cx="582.58" cy="387.5" r="1.3"/>
<circle cx="582.58" cy="382.5" r="1.3"/>
<circle cx="582.58" cy="377.5" r="1.3"/>
<circle cx="582.58" cy="367.5" r="1.3"/>
<circle cx="582.58" cy="362.5" r="1.3"/>
<circle cx="582.58" cy="352.5" r="1.3"/>
<circle cx="582.58" cy="342.5" r="1.3"/>
<circle cx="582.58" cy="337.5" r="1.3"/>
<circle cx="582.58" cy="332.5" r="1.3"/>
<circle cx="588.61" cy="457.5" r="1.3"/>
<circle cx="588.61" cy="452.5" r="1.3"/>
<circle cx="588.61" cy="447.5" r="1.3"/>
<circle cx="588.61" cy="442.5" r="1.3"/>
<circle cx="588.61" cy="427.5" r="1.3"/>
<circle cx="588.61" cy="417.5" r="1.3"/>
<circle cx="588.61" cy="412.5" r="1.3"/>
<circle cx="588.61" cy="402.5" r="1.3"/>
<circle cx="588.61" cy="397.5" r="1.3"/>
<circle cx="588.61" cy="392.5" r="1.3"/>
<circle cx="588.61" cy="387.5" r="1.3"/>
<circle cx="588.61" cy="382.5" r="1.3"/>
<circle cx="588.61" cy="377.5" r="1.3"/>
<circle cx="588.61" cy="367.5" r="1.3"/>
<circle cx="588.61" cy="362.5" r="1.3"/>
<circle cx="588.61" cy="357.5" r="1.3"/>
<circle cx="588.61" cy="342.5" r="1.3"/>
<circle cx="588.61" cy="337.5" r="1.3"/>
<circle cx="588.61" cy="332.5" r="1.3"/>
<circle cx="594.64" cy="467.5" r="1.3"/>
<circle cx="594.64" cy="452.5" r="1.3"/>
<circle cx="594.64" cy="427.5" r="1.3"/>
<circle cx="594.64" cy="412.5" r="1.3"/>
<circle cx="594.64" cy="402.5" r="1.3"/>
<circle cx="594.64" cy="397.5" r="1.3"/>
<circle cx="594.64" cy="392.5" r="1.3"/>
<circle cx="594.64" cy="387.5" r="1.3"/>
<circle cx="594.64" cy="377.5" r="1.3"/>
<circle cx="594.64" cy="372.5" r="1.3"/>
<circle cx="594.64" cy="347.5" r="1.3"/>
<circle cx="594.64" cy="337.5" r="1.3"/>
<circle cx="600.67" cy="462.5" r="1.3"/>
<circle cx="600.67" cy="437.5" r="1.3"/>
<circle cx="600.67" cy="422.5" r="1.3"/>
<circle cx="600.67" cy="417.5" r="1.3"/>
<circle cx="600.67" cy="412.5" r="1.3"/>
<circle cx="600.67" cy="402.5" r="1.3"/>
<circle cx="600.67" cy="397.5" r="1.3"/>
<circle cx="600.67" cy="377.5" r="1.3"/>
<circle cx="600.67" cy="372.5" r="1.3"/>
<circle cx="600.67" cy="367.5" r="1.3"/>
<circle cx="600.67" cy="362.5" r="1.3"/>
<circle cx="600.67" cy="357.5" r="1.3"/>
<circle cx="600.67" cy="342.5" r="1.3"/>
<circle cx="606.7" cy="452.5" r="1.3"/>
<circle cx="606.7" cy="442.5" r="1.3"/>
<circle cx="606.7" cy="417.5" r="1.3"/>
<circle cx="606.7" cy="412.5" r="1.3"/>
<circle cx="606.7" cy="407.5" r="1.3"/>
<circle cx="606.7" cy="402.5" r="1.3"/>
<circle cx="606.7" cy="397.5" r="1.3"/>
<circle cx="606.7" cy="392.5" r="1.3"/>
<circle cx="606.7" cy="382.5" r="1.3"/>
<circle cx="606.7" cy="372.5" r="1.3"/>
<circle cx="606.7" cy="367.5" r="1.3"/>
<circle cx="606.7" cy="362.5" r="1.3"/>
<circle cx="606.7" cy="357.5" r="1.3"/>
<circle cx="606.7" cy="352.5" r="1.3"/>
<circle cx="606.7" cy="337.5" r="1.3"/>
<circle cx="606.7" cy="332.5" r="1.3"/>
<circle cx="606.7" cy="322.5" r="1.3"/>
<circle cx="612.73" cy="452.5" r="1.3"/>
<circle cx="612.73" cy="437.5" r="1.3"/>
<circle cx="612.73" cy="432.5" r="1.3"/>
<circle cx="612.73" cy="427.5" r="1.3"/>
<circle cx="612.73" cy="422.5" r="1.3"/>
<circle cx="612.73" cy="412.5" r="1.3"/>
<circle cx="612.73" cy="407.5" r="1.3"/>
<circle cx="612.73" cy="402.5" r="1.3"/>
<circle cx="612.73" cy="387.5" r="1.3"/>
<circle cx="612.73" cy="377.5" r="1.3"/>
<circle cx="612.73" cy="372.5" r="1.3"/>
<circle cx="612.73" cy="367.5" r="1.3"/>
<circle cx="612.73" cy="347.5" r="1.3"/>
<circle cx="618.76" cy="437.5" r="1.3"/>
<circle cx="618.76" cy="432.5" r="1.3"/>
<circle cx="618.76" cy="422.5" r="1.3"/>
<circle cx="618.76" cy="412.5" r="1.3"/>
<circle cx="618.76" cy="407.5" r="1.3"/>
<circle cx="618.76" cy="402.5" r="1.3"/>
<circle cx="618.76" cy="392.5" r="1.3"/>
<circle cx="618.76" cy="387.5" r="1.3"/>
<circle cx="618.76" cy="382.5" r="1.3"/>
<circle cx="618.76" cy="367.5" r="1.3"/>
<circle cx="624.79" cy="442.5" r="1.3"/>
<circle cx="624.79" cy="437.5" r="1.3"/>
<circle cx="624.79" cy="427.5" r="1.3"/>
<circle cx="624.79" cy="402.5" r="1.3"/>
<circle cx="624.79" cy="392.5" r="1.3"/>
<circle cx="624.79" cy="382.5" r="1.3"/>
<circle cx="624.79" cy="367.5" r="1.3"/>
<circle cx="624.79" cy="357.5" r="1.3"/>
<circle cx="624.79" cy="352.5" r="1.3"/>
<circle cx="624.79" cy="347.5" r="1.3"/>
<circle cx="624.79" cy="342.5" r="1.3"/>
<circle cx="624.79" cy="337.5" r="1.3"/>
<circle cx="630.82" cy="437.5" r="1.3"/>
<circle cx="630.82" cy="412.5" r="1.3"/>
<circle cx="630.82" cy="407.5" r="1.3"/>
<circle cx="630.82" cy="397.5" r="1.3"/>
<circle cx="630.82" cy="392.5" r="1.3"/>
<circle cx="630.82" cy="382.5" r="1.3"/>
<circle cx="630.82" cy="362.5" r="1.3"/>
<circle cx="630.82" cy="357.5" r="1.3"/>
<circle cx="630.82" cy="352.5" r="1.3"/>
<circle cx="630.82" cy="337.5" r="1.3"/>
<circle cx="636.85" cy="432.5" r="1.3"/>
<circle cx="636.85" cy="407.5" r="1.3"/>
<circle cx="636.85" cy="402.5" r="1.3"/>
<circle cx="636.85" cy="392.5" r="1.3"/>
<circle cx="636.85" cy="382.5" r="1.3"/>
<circle cx="636.85" cy="367.5" r="1.3"/>
<circle cx="636.85" cy="362.5" r="1.3"/>
<circle cx="636.85" cy="342.5" r="1.3"/>
<circle cx="642.88" cy="382.5" r="1.3"/>
<circle cx="642.88" cy="367.5" r="1.3"/>
<circle cx="642.88" cy="352.5" r="1.3"/>
<circle cx="642.88" cy="347.5" r="1.3"/>
<circle cx="642.88" cy="342.5" r="1.3"/>
<circle cx="642.88" cy="327.5" r="1.3"/>
<circle cx="642.88" cy="322.5" r="1.3"/>
<circle cx="648.91" cy="382.5" r="1.3"/>
<circle cx="648.91" cy="372.5" r="1.3"/>
<circle cx="648.91" cy="367.5" r="1.3"/>
<circle cx="648.91" cy="362.5" r="1.3"/>
<circle cx="648.91" cy="347.5" r="1.3"/>
<circle cx="654.94" cy="397.5" r="1.3"/>
<circle cx="654.94" cy="392.5" r="1.3"/>
<circle cx="654.94" cy="352.5" r="1.3"/>
<circle cx="660.97" cy="342.5" r="1.3"/>
<circle cx="660.97" cy="337.5" r="1.3"/>
<circle cx="660.97" cy="332.5" r="1.3"/>
<circle cx="667" cy="407.5" r="1.3"/>
<circle cx="667" cy="382.5" r="1.3"/>
<circle cx="667" cy="377.5" r="1.3"/>
<circle cx="679.06" cy="392.5" r="1.3"/>
<circle cx="679.06" cy="362.5" r="1.3"/>
<circle cx="703.18" cy="352.5" r="1.3"/>
<circle cx="709.21" cy="332.5" r="1.3"/>
</g>
<text x="-0.5" y="12.8" class="let">A</text>
<text x="373.3" y="12.8" class="let">B</text>
<text x="-0.3" y="302.8" class="let">C</text>
<text x="373.3" y="302.8" class="let">D</text>
<text x="203" y="262.8" text-anchor="middle" class="ax">Mean</text>
<text x="204" y="556.8" text-anchor="middle" class="ax">Mean</text>
<text x="571.7" y="262.8" text-anchor="middle" class="ax">PAWP, mm Hg</text>
<text x="570.5" y="556.8" text-anchor="middle" class="ax">PAWP, mm Hg</text>
<text transform="translate(17.9,124.5) rotate(-90)" text-anchor="middle" class="ax">Difference</text>
<text transform="translate(17.9,418) rotate(-90)" text-anchor="middle" class="ax">Difference</text>
<text transform="translate(390.5,127.6) rotate(-90)" text-anchor="middle" class="ax">LVEDP, mm Hg</text>
<text transform="translate(390.5,418.6) rotate(-90)" text-anchor="middle" class="ax">LVEDP, mm Hg</text>
<text x="62.3" y="207.4" class="an">Mean Diff = –1.6 mm Hg</text>
<text x="62.3" y="217.5" class="an">(IQR 15.2, 12.0)</text>
<text x="343.7" y="209" text-anchor="end" class="sm">Mean Diff. = –1.62 (–15.24, 12.00)</text>
<text x="62.3" y="500.9" class="an">Mean Diff = –0.3 mm Hg</text>
<text x="62.3" y="510.8" class="an">(IQR 13.6, 14.3)</text>
<text x="346" y="509.8" text-anchor="end" class="sm">Mean Diff. = 0.34 (–13.58, 14.26)</text>
<text x="709.3" y="216.2" text-anchor="end" class="rs">r<tspan class="sub" dy="2.5">s</tspan><tspan dy="-2.5"> = 0.6, </tspan><tspan font-style="italic">P</tspan> &lt; .001</text>
<text x="710.4" y="509.8" text-anchor="end" class="rs">r<tspan class="sub" dy="2.5">s</tspan><tspan dy="-2.5"> = 0.52, </tspan><tspan font-style="italic">P</tspan> &lt; .001</text>
</svg>
</body></html>
